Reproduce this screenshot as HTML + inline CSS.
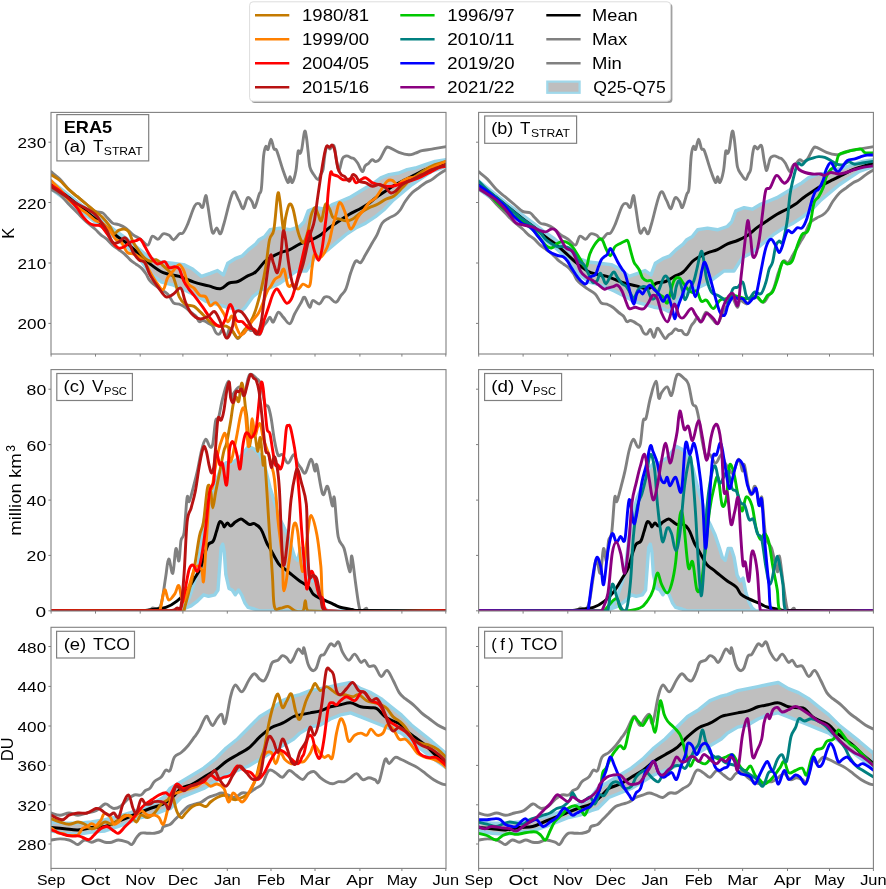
<!DOCTYPE html><html><head><meta charset="utf-8"><style>html,body{margin:0;padding:0;background:#fff;overflow:hidden}svg{display:block;will-change:transform}</style></head><body>
<svg width="886" height="889" viewBox="0 0 886 889">
<rect width="886" height="889" fill="#fff"/>
<defs>
<clipPath id="c00"><rect x="51.0" y="112.4" width="395.0" height="241.6"/></clipPath>
<clipPath id="c01"><rect x="478.6" y="112.4" width="394.8" height="241.6"/></clipPath>
<clipPath id="c10"><rect x="51.0" y="369.6" width="395.0" height="241.4"/></clipPath>
<clipPath id="c11"><rect x="478.6" y="369.6" width="394.8" height="241.4"/></clipPath>
<clipPath id="c20"><rect x="51.0" y="627.3" width="395.0" height="241.1"/></clipPath>
<clipPath id="c21"><rect x="478.6" y="627.3" width="394.8" height="241.1"/></clipPath>
</defs>
<g clip-path="url(#c00)">
<polygon points="51.0,181.0 65.0,192.0 80.0,204.0 95.0,215.0 107.0,224.0 117.0,232.0 127.0,239.0 139.0,249.0 150.0,258.0 161.0,262.0 172.0,263.2 183.7,264.6 192.6,269.0 201.4,276.4 210.2,273.4 217.5,270.5 223.4,274.9 227.8,263.2 235.1,258.7 242.4,255.8 248.3,249.9 255.6,244.1 259.2,239.7 264.5,236.7 270.0,229.8 279.9,228.1 289.8,229.8 299.7,226.5 304.0,222.0 308.2,210.9 316.5,207.6 324.7,209.2 333.0,204.3 341.2,201.0 349.4,197.7 357.7,192.8 365.9,187.8 374.2,182.9 380.8,177.9 389.0,174.6 398.9,173.0 407.1,169.7 415.4,168.0 425.2,164.7 435.1,161.4 446.0,159.8 446.0,166.4 431.8,171.3 422.0,177.9 412.1,184.5 402.2,192.8 392.3,201.0 383.7,210.0 375.5,216.6 365.6,223.2 355.7,228.1 345.8,234.7 335.9,243.0 324.4,252.8 314.5,257.8 306.3,271.0 296.4,271.0 289.8,275.9 280.0,283.2 270.3,287.6 261.5,289.6 252.7,296.9 245.4,307.2 241.0,311.6 235.1,308.6 226.3,307.2 216.0,304.2 205.8,301.3 198.4,296.9 186.7,291.0 173.5,285.2 161.7,282.2 150.0,273.4 139.0,258.0 127.0,247.0 117.0,240.0 107.0,231.0 95.0,222.0 80.0,211.0 65.0,199.0 51.0,189.0" fill="#bfbfbf" stroke="#94d3e8" stroke-width="3.4" stroke-linejoin="round"/>
<path d="M51.0,171.7 C52.5,173.0 56.7,176.0 59.8,179.1 C62.9,182.2 65.5,186.2 68.6,189.3 C71.7,192.4 74.3,194.1 77.4,196.7 C80.5,199.3 83.1,201.4 86.2,204.0 C89.3,206.6 92.2,209.9 95.0,211.4 C97.8,212.9 100.3,211.8 102.4,212.8 C104.5,213.8 105.0,215.4 106.8,217.2 C108.6,219.0 110.6,221.8 112.6,223.1 C114.6,224.4 116.2,223.7 118.5,224.6 C120.8,225.5 123.2,226.4 125.8,228.2 C128.4,230.0 130.6,232.9 133.2,234.8 C135.8,236.7 137.9,237.4 140.5,239.2 C143.1,241.0 145.8,245.6 147.8,245.1 C149.8,244.6 150.4,237.3 152.2,236.3 C154.0,235.3 156.2,239.6 158.1,239.2 C160.0,238.8 161.3,234.5 163.2,233.8 C165.1,233.1 167.3,234.3 169.1,235.3 C170.9,236.3 171.7,240.0 173.5,239.7 C175.3,239.4 177.7,235.0 179.3,233.8 C180.9,232.6 181.5,234.6 182.9,233.1 C184.3,231.6 185.2,229.8 187.3,225.0 C189.4,220.2 192.6,209.6 194.7,205.9 C196.8,202.2 197.7,203.4 199.1,203.7 C200.5,204.0 201.5,208.8 202.7,207.4 C203.9,206.0 204.8,195.9 205.7,195.6 C206.6,195.3 206.7,199.5 207.9,205.9 C209.1,212.3 210.8,228.5 212.3,232.3 C213.8,236.2 215.3,227.6 216.7,227.9 C218.1,228.2 219.1,234.6 220.4,233.8 C221.7,233.0 221.8,230.7 224.0,223.5 C226.2,216.3 230.2,196.8 232.8,192.7 C235.4,188.6 236.9,197.2 238.7,200.0 C240.5,202.8 241.6,209.2 243.1,208.8 C244.6,208.4 246.0,199.1 247.5,197.8 C249.0,196.5 250.6,199.8 251.9,201.5 C253.2,203.2 253.5,208.7 254.8,207.4 C256.1,206.1 258.0,197.5 259.2,194.2 C260.4,190.9 260.6,195.0 261.4,188.3 C262.2,181.6 262.8,163.3 263.6,156.0 C264.4,148.7 265.0,147.7 265.8,146.5 C266.6,145.3 267.1,150.7 268.0,149.4 C268.9,148.1 270.0,139.2 271.0,139.1 C272.0,139.0 272.9,146.6 273.9,148.7 C274.9,150.8 275.3,147.3 276.8,150.9 C278.3,154.5 280.8,163.7 282.7,169.2 C284.6,174.7 286.6,181.1 287.9,182.4 C289.2,183.7 289.2,176.6 290.0,176.6 C290.8,176.6 291.3,183.4 292.3,182.4 C293.3,181.4 294.9,176.1 295.9,170.7 C296.9,165.3 297.4,154.6 298.1,151.6 C298.8,148.6 299.4,153.9 300.0,153.4 C300.6,152.9 301.0,152.8 301.8,149.0 C302.6,145.2 303.7,133.9 304.5,131.7 C305.3,129.5 305.7,132.8 306.3,136.3 C306.9,139.8 307.5,146.2 308.1,151.6 C308.7,157.0 309.0,163.0 309.9,167.0 C310.8,171.0 312.1,172.0 313.5,174.2 C314.9,176.4 316.7,179.6 318.0,179.6 C319.3,179.6 319.9,175.9 320.8,174.2 C321.7,172.5 322.3,172.9 323.0,169.7 C323.7,166.5 324.1,160.1 324.7,156.1 C325.3,152.1 325.9,148.7 326.5,147.1 C327.1,145.5 327.7,146.8 328.3,147.1 C328.9,147.4 329.3,149.2 330.1,148.9 C330.9,148.6 332.0,145.5 332.8,145.3 C333.6,145.1 334.0,145.5 334.6,148.0 C335.2,150.5 335.7,155.8 336.4,159.7 C337.1,163.5 337.9,168.6 338.5,170.0 C339.1,171.4 339.3,169.9 340.0,167.9 C340.7,165.9 341.5,160.6 342.5,158.5 C343.5,156.4 344.5,156.5 345.5,156.1 C346.5,155.7 346.9,155.8 348.0,156.1 C349.1,156.4 350.4,157.4 351.5,157.9 C352.6,158.4 353.1,157.9 354.2,158.8 C355.3,159.7 356.4,161.1 357.8,163.3 C359.2,165.5 361.0,171.0 362.3,171.5 C363.6,172.0 363.9,167.5 365.0,166.1 C366.1,164.7 367.3,164.4 368.6,163.3 C369.9,162.2 370.9,160.0 372.2,159.7 C373.5,159.4 374.4,161.8 375.8,161.6 C377.2,161.4 378.3,161.1 380.0,158.8 C381.7,156.5 384.1,150.3 385.7,148.3 C387.3,146.3 386.7,146.7 389.0,147.4 C391.3,148.1 395.4,151.1 398.9,152.4 C402.4,153.7 405.9,154.7 408.8,154.8 C411.7,154.9 413.1,153.9 415.4,153.2 C417.7,152.5 419.0,151.4 421.9,150.7 C424.8,150.0 428.3,149.7 431.8,149.1 C435.3,148.5 439.2,147.8 441.7,147.4 C444.2,147.0 445.2,146.7 446.0,146.6" fill="none" stroke="#808080" stroke-width="2.90" stroke-linejoin="round" stroke-linecap="round" />
<path d="M51.0,189.3 C52.5,190.2 56.7,191.9 59.8,194.5 C62.9,197.1 65.5,200.8 68.6,204.0 C71.7,207.2 74.3,209.7 77.4,212.8 C80.5,215.9 83.1,218.8 86.2,221.6 C89.3,224.4 92.4,226.7 95.0,229.0 C97.6,231.3 98.8,233.0 100.9,234.8 C103.0,236.6 104.8,237.4 106.8,239.2 C108.8,241.0 110.6,243.3 112.6,245.1 C114.6,246.9 116.4,248.0 118.5,249.5 C120.6,251.0 122.4,252.1 124.4,253.9 C126.4,255.7 128.2,258.0 130.2,259.8 C132.2,261.6 134.0,262.7 136.1,264.2 C138.2,265.7 140.2,266.8 142.0,268.6 C143.8,270.4 145.0,272.4 146.4,274.5 C147.8,276.6 147.8,278.4 150.0,280.8 C152.2,283.2 155.7,285.8 158.8,288.1 C161.9,290.4 165.0,291.4 167.6,294.0 C170.2,296.6 171.5,301.0 173.5,302.8 C175.5,304.6 177.3,303.4 179.3,304.2 C181.3,305.0 183.1,305.7 185.2,307.2 C187.3,308.7 189.2,311.0 191.1,312.5 C193.0,314.0 194.4,314.4 195.8,316.0 C197.2,317.6 198.0,320.8 199.2,321.6 C200.4,322.4 201.4,320.5 202.6,320.5 C203.8,320.5 204.7,321.0 205.9,321.6 C207.1,322.2 208.1,323.1 209.3,323.9 C210.5,324.7 211.5,324.5 212.7,326.1 C213.9,327.7 214.9,331.5 216.1,332.9 C217.3,334.3 218.3,334.6 219.5,334.0 C220.7,333.4 221.7,328.9 222.9,329.5 C224.1,330.1 225.1,337.6 226.3,337.4 C227.5,337.2 228.4,329.4 229.6,328.4 C230.8,327.4 231.6,330.0 233.0,331.8 C234.4,333.6 236.1,337.9 237.5,338.5 C238.9,339.1 239.7,336.1 240.9,335.1 C242.1,334.1 243.1,334.0 244.3,332.9 C245.5,331.8 246.5,329.3 247.7,328.9 C248.9,328.5 250.0,330.3 251.1,330.6 C252.2,330.9 252.9,330.0 253.9,330.6 C254.9,331.2 255.6,333.4 256.7,334.0 C257.8,334.6 258.9,335.4 260.1,334.0 C261.3,332.6 262.3,328.3 263.5,326.1 C264.7,323.9 265.8,323.2 266.9,321.6 C268.0,320.0 268.9,317.0 270.0,317.1 C271.1,317.2 271.9,323.0 273.3,322.1 C274.7,321.2 276.5,313.1 278.2,312.2 C279.9,311.3 281.2,315.1 283.2,317.1 C285.2,319.1 287.8,324.3 289.8,323.7 C291.8,323.1 292.7,317.5 294.7,313.8 C296.7,310.1 299.6,305.2 301.3,302.3 C303.0,299.4 303.1,296.4 304.6,297.3 C306.1,298.2 308.2,306.6 309.6,307.2 C311.0,307.8 311.1,301.2 312.8,300.6 C314.5,300.0 317.4,304.5 319.4,303.9 C321.4,303.3 322.7,298.5 324.4,297.3 C326.1,296.1 327.3,296.4 329.3,297.3 C331.3,298.2 333.9,302.6 335.9,302.3 C337.9,302.0 339.2,298.0 340.9,295.7 C342.6,293.4 344.1,293.1 345.8,289.1 C347.5,285.1 349.1,277.5 350.8,272.6 C352.5,267.7 354.0,262.8 355.7,261.1 C357.4,259.4 358.9,263.9 360.6,262.7 C362.3,261.5 363.6,257.9 365.6,254.5 C367.6,251.1 370.2,246.5 372.2,243.0 C374.2,239.5 375.4,238.2 377.1,234.7 C378.8,231.2 380.1,226.1 382.1,223.2 C384.1,220.3 386.4,219.7 388.7,218.2 C391.0,216.7 393.2,216.3 395.2,214.9 C397.2,213.5 398.4,212.4 400.2,210.0 C402.0,207.6 403.4,204.0 405.5,201.0 C407.6,198.0 409.8,195.1 412.1,192.8 C414.4,190.5 416.4,189.5 418.7,187.8 C421.0,186.1 422.9,184.3 425.2,182.9 C427.5,181.5 429.5,181.1 431.8,179.6 C434.1,178.1 435.9,176.3 438.4,174.6 C440.9,172.9 444.7,170.6 446.0,169.7" fill="none" stroke="#808080" stroke-width="2.90" stroke-linejoin="round" stroke-linecap="round" />
<path d="M51.0,185.0 C53.6,186.8 60.6,191.3 65.7,195.2 C70.8,199.0 75.2,202.9 80.3,207.0 C85.4,211.1 90.4,215.1 95.0,218.7 C99.6,222.3 103.0,224.4 106.8,227.5 C110.6,230.6 113.4,233.5 117.0,236.3 C120.6,239.1 123.5,240.5 127.3,243.6 C131.2,246.7 135.0,250.3 139.0,253.9 C143.0,257.5 145.8,260.6 150.0,263.9 C154.2,267.2 158.1,270.5 163.2,272.7 C168.3,274.9 173.9,274.7 179.3,276.4 C184.7,278.1 188.9,280.5 194.0,282.2 C199.1,283.9 204.1,284.7 208.7,285.9 C213.3,287.1 216.8,289.3 220.4,288.8 C224.0,288.3 226.1,284.3 229.2,283.0 C232.3,281.7 234.9,282.7 238.0,281.5 C241.1,280.3 243.7,278.1 246.8,276.4 C249.9,274.7 252.5,274.6 255.6,272.0 C258.7,269.4 262.0,264.2 264.5,261.7 C267.0,259.2 267.3,259.4 270.0,257.8 C272.7,256.2 276.4,254.2 279.9,252.8 C283.4,251.4 286.3,251.2 289.8,249.6 C293.3,248.0 296.5,245.4 300.0,243.8 C303.5,242.2 306.4,241.9 309.9,240.5 C313.4,239.1 316.3,237.9 319.8,235.6 C323.3,233.3 326.2,230.0 329.7,227.4 C333.2,224.8 336.2,223.1 339.6,220.8 C343.0,218.5 346.0,216.2 349.4,214.2 C352.8,212.2 356.1,210.9 359.3,209.2 C362.5,207.5 364.7,206.3 367.6,204.3 C370.5,202.3 372.6,200.0 375.8,197.7 C379.0,195.4 382.2,193.4 385.7,191.1 C389.2,188.8 392.1,186.5 395.6,184.5 C399.1,182.5 402.0,181.3 405.5,179.6 C409.0,177.9 412.0,176.3 415.4,174.6 C418.8,172.9 421.8,171.1 425.2,169.7 C428.6,168.3 431.5,167.6 435.1,166.4 C438.7,165.2 444.1,163.7 446.0,163.1" fill="none" stroke="#000" stroke-width="3.00" stroke-linejoin="round" stroke-linecap="round" />
<path d="M51.0,174.7 C52.5,175.7 56.7,177.9 59.8,180.5 C62.9,183.1 65.5,186.5 68.6,189.3 C71.7,192.1 74.3,194.1 77.4,196.7 C80.5,199.3 83.1,201.4 86.2,204.0 C89.3,206.6 92.2,209.1 95.0,211.4 C97.8,213.7 99.8,214.6 102.4,217.2 C105.0,219.8 107.7,223.2 109.7,226.0 C111.7,228.8 112.6,232.6 114.1,233.4 C115.6,234.2 116.7,231.2 118.5,230.4 C120.3,229.6 122.6,228.7 124.4,229.0 C126.2,229.3 127.3,229.6 128.8,231.9 C130.3,234.2 131.4,238.9 133.2,242.2 C135.0,245.5 137.0,248.2 139.0,251.0 C141.0,253.8 142.8,256.5 144.9,258.3 C147.0,260.1 148.8,260.9 150.8,261.2 C152.8,261.5 154.6,259.1 156.6,259.8 C158.6,260.5 160.4,263.2 162.5,265.1 C164.6,267.0 166.6,268.6 168.4,270.5 C170.2,272.4 171.4,273.1 172.8,275.9 C174.2,278.7 175.3,282.9 176.4,286.6 C177.5,290.3 177.8,293.8 179.3,296.9 C180.8,300.0 182.6,302.5 185.2,304.2 C187.8,305.9 191.4,305.1 194.0,306.4 C196.6,307.7 197.8,309.7 199.9,311.6 C202.0,313.5 203.8,315.4 205.8,317.4 C207.8,319.4 209.3,321.8 211.6,323.3 C213.9,324.8 216.4,325.7 219.0,326.2 C221.6,326.7 224.0,325.4 226.3,326.2 C228.6,327.0 230.2,328.5 232.2,330.6 C234.2,332.7 236.0,338.0 238.0,338.0 C240.0,338.0 241.8,333.2 243.9,330.6 C246.0,328.0 247.8,326.9 249.8,323.3 C251.8,319.7 253.6,316.3 255.6,310.1 C257.6,303.9 259.7,295.8 261.5,288.1 C263.3,280.4 264.5,274.6 265.9,266.1 C267.3,257.6 268.1,246.1 269.5,239.7 C270.9,233.3 272.5,237.2 273.9,229.4 C275.3,221.6 276.6,200.0 277.6,194.9 C278.6,189.8 278.8,194.0 279.8,200.0 C280.8,206.0 282.4,226.3 283.4,229.4 C284.4,232.5 284.6,222.0 285.6,217.6 C286.6,213.2 288.0,205.9 289.3,204.4 C290.6,202.9 291.6,204.4 293.0,208.8 C294.4,213.2 296.0,223.9 297.4,229.4 C298.8,234.9 299.8,237.8 301.0,240.0 C302.2,242.2 302.8,243.5 304.0,242.0 C305.2,240.5 306.7,236.0 307.9,231.4 C309.1,226.8 309.8,220.2 311.0,216.0 C312.2,211.8 313.6,207.9 314.8,207.6 C316.0,207.3 316.9,211.9 318.1,214.2 C319.3,216.5 320.1,222.5 321.4,220.8 C322.7,219.1 324.0,206.3 325.5,204.3 C327.0,202.3 328.4,206.9 329.7,209.2 C331.0,211.5 331.3,215.8 333.0,217.5 C334.7,219.2 337.3,218.5 339.6,219.1 C341.9,219.7 343.8,220.8 346.1,220.8 C348.4,220.8 350.1,220.6 352.7,219.1 C355.3,217.6 358.1,214.5 361.0,212.5 C363.9,210.5 366.3,209.0 369.2,207.6 C372.1,206.2 374.6,205.8 377.5,204.3 C380.4,202.8 382.8,200.8 385.7,199.3 C388.6,197.8 391.0,198.0 393.9,196.0 C396.8,194.0 399.6,190.4 402.2,187.8 C404.8,185.2 406.5,183.2 408.8,181.2 C411.1,179.2 412.5,178.3 415.4,176.3 C418.3,174.3 421.8,171.7 425.2,169.7 C428.6,167.7 431.5,166.2 435.1,164.7 C438.7,163.2 444.1,162.0 446.0,161.4" fill="none" stroke="#c47a00" stroke-width="2.90" stroke-linejoin="round" stroke-linecap="round" />
<path d="M51.0,180.5 C52.5,182.0 56.7,186.0 59.8,189.3 C62.9,192.6 65.5,196.5 68.6,199.6 C71.7,202.7 74.3,204.7 77.4,207.0 C80.5,209.3 83.1,210.5 86.2,212.8 C89.3,215.1 92.2,218.4 95.0,220.2 C97.8,222.0 99.8,221.3 102.4,223.1 C105.0,224.9 107.4,227.6 109.7,230.4 C112.0,233.2 113.6,237.1 115.6,239.2 C117.6,241.3 119.4,239.9 121.4,242.2 C123.4,244.5 125.2,250.4 127.3,252.4 C129.4,254.4 131.2,253.1 133.2,253.9 C135.2,254.7 137.0,255.3 139.0,256.8 C141.0,258.3 143.0,260.0 144.9,262.7 C146.8,265.4 147.8,268.3 150.0,272.0 C152.2,275.7 155.0,280.6 157.3,283.7 C159.6,286.8 161.4,290.6 163.2,289.6 C165.0,288.6 165.8,281.1 167.6,277.8 C169.4,274.5 171.5,272.8 173.5,270.5 C175.5,268.2 177.5,264.6 179.3,264.6 C181.1,264.6 182.1,267.2 183.7,270.5 C185.3,273.8 186.4,280.6 188.2,283.7 C190.0,286.8 192.0,286.1 194.0,288.1 C196.0,290.1 197.8,293.9 199.9,295.4 C202.0,296.9 204.0,295.1 205.8,296.9 C207.6,298.7 208.4,304.7 210.2,305.7 C212.0,306.7 213.7,301.5 216.0,302.8 C218.3,304.1 221.3,309.7 223.4,313.0 C225.5,316.3 226.3,321.3 227.8,321.8 C229.3,322.3 230.7,315.0 232.2,316.0 C233.7,317.0 235.1,324.4 236.6,327.7 C238.1,331.0 239.2,334.7 241.0,335.0 C242.8,335.3 244.8,331.8 246.8,329.2 C248.8,326.6 250.6,323.2 252.7,320.4 C254.8,317.6 256.8,316.1 258.6,313.0 C260.4,309.9 261.5,306.7 263.0,302.8 C264.5,298.9 266.0,293.9 267.4,291.0 C268.8,288.1 269.7,288.1 271.0,286.0 C272.3,283.9 273.3,281.0 274.9,279.2 C276.5,277.4 278.3,277.6 279.9,275.9 C281.5,274.2 282.6,267.6 284.0,269.3 C285.4,271.0 286.5,283.2 288.1,285.8 C289.7,288.4 291.4,283.6 293.1,284.2 C294.8,284.8 296.3,289.1 298.0,289.1 C299.7,289.1 301.0,284.8 303.0,284.2 C305.0,283.6 308.0,288.7 309.6,285.8 C311.2,282.9 311.1,273.2 312.0,267.7 C312.9,262.2 313.2,256.2 314.5,254.5 C315.8,252.8 317.7,258.1 319.4,257.8 C321.1,257.5 322.7,255.7 324.4,252.8 C326.1,249.9 327.9,245.9 329.3,241.3 C330.7,236.7 331.4,231.1 332.6,226.5 C333.8,221.9 334.7,219.2 335.9,215.0 C337.1,210.8 338.1,203.3 339.6,202.6 C341.1,201.9 342.8,206.6 344.5,210.9 C346.2,215.2 348.0,224.5 349.4,227.4 C350.8,230.3 351.2,229.1 352.7,227.4 C354.2,225.7 355.7,220.7 357.7,217.5 C359.7,214.3 362.3,211.8 364.3,209.2 C366.3,206.6 367.2,204.6 369.2,202.6 C371.2,200.6 373.5,200.3 375.8,197.7 C378.1,195.1 380.4,190.7 382.4,187.8 C384.4,184.9 385.6,182.5 387.3,181.2 C389.0,179.9 390.6,179.8 392.3,180.4 C394.0,181.0 395.5,184.4 397.2,184.5 C398.9,184.6 400.2,182.4 402.2,181.2 C404.2,180.0 405.9,178.8 408.8,177.9 C411.7,177.0 415.3,177.7 418.7,176.3 C422.1,174.9 425.1,171.7 428.5,169.7 C431.9,167.7 435.3,166.2 438.4,164.7 C441.5,163.2 444.7,162.0 446.0,161.4" fill="none" stroke="#ff8000" stroke-width="2.90" stroke-linejoin="round" stroke-linecap="round" />
<path d="M51.0,185.0 C52.5,186.0 56.7,188.5 59.8,190.8 C62.9,193.1 65.5,195.1 68.6,198.2 C71.7,201.3 74.8,205.1 77.4,208.4 C80.0,211.7 81.2,214.6 83.3,217.2 C85.4,219.8 87.2,221.7 89.2,223.1 C91.2,224.5 93.0,224.8 95.0,225.3 C97.0,225.8 98.8,224.6 100.9,226.0 C103.0,227.4 104.8,230.6 106.8,233.4 C108.8,236.2 110.6,239.6 112.6,242.2 C114.6,244.8 116.4,247.2 118.5,248.0 C120.6,248.8 122.4,247.6 124.4,246.6 C126.4,245.6 128.2,243.2 130.2,242.2 C132.2,241.2 134.3,241.2 136.1,240.7 C137.9,240.2 139.0,238.2 140.5,239.2 C142.0,240.2 143.1,243.5 144.9,246.6 C146.7,249.7 148.6,253.8 150.8,256.8 C153.0,259.8 154.9,263.0 157.3,263.9 C159.7,264.8 162.6,261.1 164.7,261.7 C166.8,262.3 167.3,266.7 169.1,267.6 C170.9,268.5 173.1,266.6 174.9,266.8 C176.7,267.0 177.8,266.6 179.3,269.0 C180.8,271.4 182.1,277.5 183.7,280.8 C185.3,284.1 186.4,285.5 188.2,288.1 C190.0,290.7 191.4,292.1 194.0,295.4 C196.6,298.7 200.2,303.6 202.8,307.2 C205.4,310.8 206.6,313.2 208.7,316.0 C210.8,318.8 212.6,321.5 214.6,323.3 C216.6,325.1 218.6,326.7 220.4,326.2 C222.2,325.7 223.3,324.0 224.8,320.4 C226.3,316.8 227.9,308.0 229.2,305.7 C230.5,303.4 230.9,304.6 232.2,307.2 C233.5,309.8 234.8,317.8 236.6,320.4 C238.4,323.0 240.4,320.5 242.4,321.8 C244.4,323.1 246.2,326.4 248.3,327.7 C250.4,329.0 252.2,328.2 254.2,329.2 C256.2,330.2 258.2,335.4 260.0,333.6 C261.8,331.8 262.9,323.7 264.5,318.9 C266.1,314.1 267.4,310.4 268.9,306.0 C270.4,301.6 271.6,297.0 273.0,294.0 C274.4,291.0 275.5,288.7 277.0,289.0 C278.5,289.3 279.8,293.2 281.5,295.7 C283.2,298.2 284.8,302.5 286.5,303.1 C288.2,303.7 290.0,301.4 291.4,299.0 C292.8,296.6 293.2,294.3 294.7,289.1 C296.2,283.9 298.0,276.5 299.7,269.3 C301.4,262.1 303.0,254.5 304.6,247.9 C306.2,241.3 307.5,233.1 308.7,231.4 C309.9,229.7 310.2,234.5 311.2,238.0 C312.2,241.5 313.2,247.3 314.5,251.2 C315.8,255.1 317.3,260.6 318.6,260.3 C319.9,260.0 320.9,254.7 321.9,249.6 C322.9,244.5 323.5,238.3 324.4,231.4 C325.3,224.5 326.3,216.5 326.9,210.0 C327.5,203.5 327.4,200.9 328.0,194.4 C328.6,187.9 329.6,176.5 330.5,173.0 C331.4,169.5 331.7,174.0 333.0,174.6 C334.3,175.2 336.2,175.4 337.9,176.3 C339.6,177.2 341.1,179.0 342.8,179.6 C344.5,180.2 346.1,179.9 347.8,179.6 C349.5,179.3 351.3,177.3 352.7,177.9 C354.1,178.5 354.5,182.6 356.0,182.9 C357.5,183.2 359.3,180.5 361.0,179.6 C362.7,178.7 363.9,177.3 365.9,177.9 C367.9,178.5 370.2,181.7 372.5,182.9 C374.8,184.1 376.8,183.9 379.1,184.5 C381.4,185.1 383.4,185.9 385.7,186.2 C388.0,186.5 390.0,186.5 392.3,186.2 C394.6,185.9 396.0,185.4 398.9,184.5 C401.8,183.6 405.3,182.4 408.8,181.2 C412.3,180.0 415.3,179.3 418.7,177.9 C422.1,176.5 425.1,174.7 428.5,173.0 C431.9,171.3 435.3,169.2 438.4,168.0 C441.5,166.8 444.7,166.7 446.0,166.4" fill="none" stroke="#ff0000" stroke-width="2.90" stroke-linejoin="round" stroke-linecap="round" />
<path d="M51.0,186.4 C52.5,187.4 56.7,190.2 59.8,192.3 C62.9,194.4 65.5,196.2 68.6,198.2 C71.7,200.2 74.3,202.2 77.4,204.0 C80.5,205.8 83.1,206.6 86.2,208.4 C89.3,210.2 92.4,212.0 95.0,214.3 C97.6,216.6 98.8,218.8 100.9,221.6 C103.0,224.4 104.8,226.8 106.8,230.4 C108.8,234.0 110.6,240.1 112.6,242.2 C114.6,244.3 116.4,243.0 118.5,242.2 C120.6,241.4 122.6,237.8 124.4,237.8 C126.2,237.8 127.3,239.6 128.8,242.2 C130.3,244.8 131.4,249.3 133.2,252.4 C135.0,255.5 137.0,258.0 139.0,259.8 C141.0,261.6 143.0,260.1 144.9,262.7 C146.8,265.3 147.6,270.5 150.0,274.9 C152.4,279.3 156.0,284.2 158.8,288.1 C161.6,292.0 163.5,295.9 166.1,296.9 C168.7,297.9 170.9,295.5 173.5,294.0 C176.1,292.5 178.8,286.8 180.8,288.1 C182.8,289.4 183.4,296.9 185.2,301.3 C187.0,305.7 188.5,309.9 191.1,313.0 C193.7,316.1 196.8,318.4 199.9,318.9 C203.0,319.4 206.1,317.3 208.7,316.0 C211.3,314.7 212.6,310.6 214.6,311.6 C216.6,312.6 218.4,317.2 220.4,321.8 C222.4,326.4 224.2,337.0 226.3,338.0 C228.4,339.0 230.7,332.1 232.2,327.7 C233.7,323.3 233.6,315.8 235.1,313.0 C236.6,310.2 239.0,310.6 241.0,311.6 C243.0,312.6 244.8,315.8 246.8,318.9 C248.8,322.0 250.9,326.6 252.7,329.2 C254.5,331.8 255.6,335.1 257.1,333.6 C258.6,332.1 260.0,329.1 261.5,320.4 C263.0,311.7 264.4,295.0 265.9,283.7 C267.4,272.4 269.0,259.5 270.3,255.8 C271.6,252.1 272.1,259.8 273.3,262.7 C274.5,265.6 276.1,273.8 277.4,272.6 C278.7,271.4 279.7,263.3 280.7,256.1 C281.7,248.9 282.3,234.3 283.2,231.4 C284.1,228.5 284.8,234.8 285.7,239.7 C286.6,244.6 287.1,252.5 288.1,259.4 C289.1,266.3 290.2,274.0 291.4,279.2 C292.6,284.4 293.5,289.1 294.7,289.1 C295.9,289.1 296.5,283.5 298.0,279.2 C299.5,274.9 301.3,270.7 303.0,264.4 C304.7,258.1 306.5,248.8 307.9,243.0 C309.3,237.2 310.0,235.4 311.2,231.4 C312.4,227.4 313.3,226.4 314.5,219.9 C315.7,213.4 316.6,204.6 318.1,194.4 C319.6,184.2 321.6,169.8 323.1,161.4 C324.6,153.0 325.2,149.0 326.4,146.6 C327.6,144.2 328.7,147.7 329.7,147.4 C330.7,147.1 331.2,144.6 332.1,145.0 C333.0,145.4 333.6,145.9 334.6,149.9 C335.6,153.9 336.7,163.7 337.9,168.0 C339.1,172.3 340.0,173.1 341.2,174.6 C342.4,176.1 343.1,175.1 344.5,176.3 C345.9,177.5 348.0,181.5 349.4,181.2 C350.8,180.9 351.5,175.5 352.7,174.6 C353.9,173.7 354.8,175.1 356.0,176.3 C357.2,177.5 357.6,180.0 359.3,181.2 C361.0,182.4 363.6,182.0 365.9,182.9 C368.2,183.8 370.2,185.9 372.5,186.2 C374.8,186.5 376.8,184.2 379.1,184.5 C381.4,184.8 383.7,186.3 385.7,187.8 C387.7,189.3 388.9,192.2 390.6,192.8 C392.3,193.4 393.6,192.6 395.6,191.1 C397.6,189.6 399.3,186.5 402.2,184.5 C405.1,182.5 408.6,181.3 412.1,179.6 C415.6,177.9 418.6,176.3 422.0,174.6 C425.4,172.9 427.6,171.4 431.8,169.7 C436.0,168.0 443.5,165.6 446.0,164.7" fill="none" stroke="#b81212" stroke-width="2.90" stroke-linejoin="round" stroke-linecap="round" />
</g>
<g clip-path="url(#c01)">
<polygon points="478.6,181.0 492.6,192.0 507.6,204.0 522.6,215.0 534.6,224.0 544.6,232.0 554.6,239.0 566.6,249.0 577.6,258.0 588.6,262.0 599.6,263.2 611.3,264.6 620.2,269.0 629.0,276.4 637.8,273.4 645.1,270.5 651.0,274.9 655.4,263.2 662.7,258.7 670.0,255.8 675.9,249.9 683.2,244.1 686.8,239.7 692.1,236.7 697.6,229.8 707.5,228.1 717.4,229.8 727.3,226.5 731.6,222.0 735.8,210.9 744.1,207.6 752.3,209.2 760.6,204.3 768.8,201.0 777.0,197.7 785.3,192.8 793.5,187.8 801.8,182.9 808.4,177.9 816.6,174.6 826.5,173.0 834.7,169.7 843.0,168.0 852.8,164.7 862.7,161.4 873.6,159.8 873.6,166.4 859.4,171.3 849.6,177.9 839.7,184.5 829.8,192.8 819.9,201.0 811.3,210.0 803.1,216.6 793.2,223.2 783.3,228.1 773.4,234.7 763.5,243.0 752.0,252.8 742.1,257.8 733.9,271.0 724.0,271.0 717.4,275.9 707.6,283.2 697.9,287.6 689.1,289.6 680.3,296.9 673.0,307.2 668.6,311.6 662.7,308.6 653.9,307.2 643.6,304.2 633.4,301.3 626.0,296.9 614.3,291.0 601.1,285.2 589.3,282.2 577.6,273.4 566.6,258.0 554.6,247.0 544.6,240.0 534.6,231.0 522.6,222.0 507.6,211.0 492.6,199.0 478.6,189.0" fill="#bfbfbf" stroke="#94d3e8" stroke-width="3.4" stroke-linejoin="round"/>
<path d="M478.6,171.7 C480.1,173.0 484.3,176.0 487.4,179.1 C490.5,182.2 493.1,186.2 496.2,189.3 C499.3,192.4 501.9,194.1 505.0,196.7 C508.1,199.3 510.7,201.4 513.8,204.0 C516.9,206.6 519.8,209.9 522.6,211.4 C525.4,212.9 527.9,211.8 530.0,212.8 C532.1,213.8 532.6,215.4 534.4,217.2 C536.2,219.0 538.2,221.8 540.2,223.1 C542.2,224.4 543.8,223.7 546.1,224.6 C548.4,225.5 550.8,226.4 553.4,228.2 C556.0,230.0 558.2,232.9 560.8,234.8 C563.4,236.7 565.5,237.4 568.1,239.2 C570.7,241.0 573.4,245.6 575.4,245.1 C577.4,244.6 578.0,237.3 579.8,236.3 C581.6,235.3 583.8,239.6 585.7,239.2 C587.6,238.8 588.9,234.5 590.8,233.8 C592.7,233.1 594.9,234.3 596.7,235.3 C598.5,236.3 599.3,240.0 601.1,239.7 C602.9,239.4 605.3,235.0 606.9,233.8 C608.5,232.6 609.1,234.6 610.5,233.1 C611.9,231.6 612.8,229.8 614.9,225.0 C617.0,220.2 620.2,209.6 622.3,205.9 C624.4,202.2 625.3,203.4 626.7,203.7 C628.1,204.0 629.1,208.8 630.3,207.4 C631.5,206.0 632.4,195.9 633.3,195.6 C634.2,195.3 634.3,199.5 635.5,205.9 C636.7,212.3 638.4,228.5 639.9,232.3 C641.4,236.2 642.9,227.6 644.3,227.9 C645.7,228.2 646.7,234.6 648.0,233.8 C649.3,233.0 649.4,230.7 651.6,223.5 C653.8,216.3 657.8,196.8 660.4,192.7 C663.0,188.6 664.5,197.2 666.3,200.0 C668.1,202.8 669.2,209.2 670.7,208.8 C672.2,208.4 673.6,199.1 675.1,197.8 C676.6,196.5 678.2,199.8 679.5,201.5 C680.8,203.2 681.1,208.7 682.4,207.4 C683.7,206.1 685.6,197.5 686.8,194.2 C688.0,190.9 688.2,195.0 689.0,188.3 C689.8,181.6 690.4,163.3 691.2,156.0 C692.0,148.7 692.6,147.7 693.4,146.5 C694.2,145.3 694.7,150.7 695.6,149.4 C696.5,148.1 697.6,139.2 698.6,139.1 C699.6,139.0 700.5,146.6 701.5,148.7 C702.5,150.8 702.9,147.3 704.4,150.9 C705.9,154.5 708.4,163.7 710.3,169.2 C712.2,174.7 714.2,181.1 715.5,182.4 C716.8,183.7 716.8,176.6 717.6,176.6 C718.4,176.6 718.9,183.4 719.9,182.4 C720.9,181.4 722.5,176.1 723.5,170.7 C724.5,165.3 725.0,154.6 725.7,151.6 C726.4,148.6 727.0,153.9 727.6,153.4 C728.2,152.9 728.6,152.8 729.4,149.0 C730.2,145.2 731.3,133.9 732.1,131.7 C732.9,129.5 733.3,132.8 733.9,136.3 C734.5,139.8 735.1,146.2 735.7,151.6 C736.3,157.0 736.6,163.0 737.5,167.0 C738.4,171.0 739.7,172.0 741.1,174.2 C742.5,176.4 744.3,179.6 745.6,179.6 C746.9,179.6 747.5,175.9 748.4,174.2 C749.3,172.5 749.9,172.9 750.6,169.7 C751.3,166.5 751.7,160.1 752.3,156.1 C752.9,152.1 753.5,148.7 754.1,147.1 C754.7,145.5 755.3,146.8 755.9,147.1 C756.5,147.4 756.9,149.2 757.7,148.9 C758.5,148.6 759.6,145.5 760.4,145.3 C761.2,145.1 761.6,145.5 762.2,148.0 C762.8,150.5 763.3,155.8 764.0,159.7 C764.7,163.5 765.5,168.6 766.1,170.0 C766.7,171.4 766.9,169.9 767.6,167.9 C768.3,165.9 769.1,160.6 770.1,158.5 C771.1,156.4 772.1,156.5 773.1,156.1 C774.1,155.7 774.6,155.8 775.6,156.1 C776.6,156.4 778.0,157.4 779.1,157.9 C780.2,158.4 780.7,157.9 781.8,158.8 C782.9,159.7 784.0,161.1 785.4,163.3 C786.8,165.5 788.6,171.0 789.9,171.5 C791.2,172.0 791.5,167.5 792.6,166.1 C793.7,164.7 794.9,164.4 796.2,163.3 C797.5,162.2 798.5,160.0 799.8,159.7 C801.1,159.4 802.0,161.8 803.4,161.6 C804.8,161.4 805.9,161.1 807.6,158.8 C809.3,156.5 811.7,150.3 813.3,148.3 C814.9,146.3 814.3,146.7 816.6,147.4 C818.9,148.1 823.0,151.1 826.5,152.4 C830.0,153.7 833.5,154.7 836.4,154.8 C839.3,154.9 840.7,153.9 843.0,153.2 C845.3,152.5 846.6,151.4 849.5,150.7 C852.4,150.0 855.9,149.7 859.4,149.1 C862.9,148.5 866.8,147.8 869.3,147.4 C871.8,147.0 872.8,146.7 873.6,146.6" fill="none" stroke="#808080" stroke-width="2.90" stroke-linejoin="round" stroke-linecap="round" />
<path d="M478.6,189.3 C480.1,190.2 484.3,191.9 487.4,194.5 C490.5,197.1 493.1,200.8 496.2,204.0 C499.3,207.2 501.9,209.7 505.0,212.8 C508.1,215.9 510.7,218.8 513.8,221.6 C516.9,224.4 520.0,226.7 522.6,229.0 C525.2,231.3 526.4,233.0 528.5,234.8 C530.6,236.6 532.4,237.4 534.4,239.2 C536.4,241.0 538.2,243.3 540.2,245.1 C542.2,246.9 544.0,248.0 546.1,249.5 C548.2,251.0 550.0,252.1 552.0,253.9 C554.0,255.7 555.8,258.0 557.8,259.8 C559.8,261.6 561.6,262.7 563.7,264.2 C565.8,265.7 567.8,266.8 569.6,268.6 C571.4,270.4 572.6,272.4 574.0,274.5 C575.4,276.6 575.4,278.4 577.6,280.8 C579.8,283.2 583.3,285.8 586.4,288.1 C589.5,290.4 592.6,291.4 595.2,294.0 C597.8,296.6 599.1,301.0 601.1,302.8 C603.1,304.6 604.9,303.4 606.9,304.2 C608.9,305.0 610.7,305.7 612.8,307.2 C614.9,308.7 616.8,311.0 618.7,312.5 C620.6,314.0 622.0,314.4 623.4,316.0 C624.8,317.6 625.6,320.8 626.8,321.6 C628.0,322.4 629.0,320.5 630.2,320.5 C631.4,320.5 632.3,321.0 633.5,321.6 C634.7,322.2 635.7,323.1 636.9,323.9 C638.1,324.7 639.1,324.5 640.3,326.1 C641.5,327.7 642.5,331.5 643.7,332.9 C644.9,334.3 645.9,334.6 647.1,334.0 C648.3,333.4 649.3,328.9 650.5,329.5 C651.7,330.1 652.7,337.6 653.9,337.4 C655.1,337.2 656.0,329.4 657.2,328.4 C658.4,327.4 659.2,330.0 660.6,331.8 C662.0,333.6 663.7,337.9 665.1,338.5 C666.5,339.1 667.3,336.1 668.5,335.1 C669.7,334.1 670.7,334.0 671.9,332.9 C673.1,331.8 674.1,329.3 675.3,328.9 C676.5,328.5 677.6,330.3 678.7,330.6 C679.8,330.9 680.5,330.0 681.5,330.6 C682.5,331.2 683.2,333.4 684.3,334.0 C685.4,334.6 686.5,335.4 687.7,334.0 C688.9,332.6 689.9,328.3 691.1,326.1 C692.3,323.9 693.4,323.2 694.5,321.6 C695.6,320.0 696.5,317.0 697.6,317.1 C698.7,317.2 699.5,323.0 700.9,322.1 C702.3,321.2 704.1,313.1 705.8,312.2 C707.5,311.3 708.8,315.1 710.8,317.1 C712.8,319.1 715.4,324.3 717.4,323.7 C719.4,323.1 720.3,317.5 722.3,313.8 C724.3,310.1 727.2,305.2 728.9,302.3 C730.6,299.4 730.7,296.4 732.2,297.3 C733.7,298.2 735.8,306.6 737.2,307.2 C738.6,307.8 738.7,301.2 740.4,300.6 C742.1,300.0 745.0,304.5 747.0,303.9 C749.0,303.3 750.3,298.5 752.0,297.3 C753.7,296.1 754.9,296.4 756.9,297.3 C758.9,298.2 761.5,302.6 763.5,302.3 C765.5,302.0 766.8,298.0 768.5,295.7 C770.2,293.4 771.7,293.1 773.4,289.1 C775.1,285.1 776.7,277.5 778.4,272.6 C780.1,267.7 781.6,262.8 783.3,261.1 C785.0,259.4 786.5,263.9 788.2,262.7 C789.9,261.5 791.2,257.9 793.2,254.5 C795.2,251.1 797.8,246.5 799.8,243.0 C801.8,239.5 803.0,238.2 804.7,234.7 C806.4,231.2 807.7,226.1 809.7,223.2 C811.7,220.3 814.0,219.7 816.3,218.2 C818.6,216.7 820.8,216.3 822.8,214.9 C824.8,213.5 826.0,212.4 827.8,210.0 C829.6,207.6 831.0,204.0 833.1,201.0 C835.2,198.0 837.4,195.1 839.7,192.8 C842.0,190.5 844.0,189.5 846.3,187.8 C848.6,186.1 850.5,184.3 852.8,182.9 C855.1,181.5 857.1,181.1 859.4,179.6 C861.7,178.1 863.5,176.3 866.0,174.6 C868.5,172.9 872.3,170.6 873.6,169.7" fill="none" stroke="#808080" stroke-width="2.90" stroke-linejoin="round" stroke-linecap="round" />
<path d="M478.6,185.0 C481.2,186.8 488.2,191.3 493.3,195.2 C498.4,199.0 502.8,202.9 507.9,207.0 C513.0,211.1 518.0,215.1 522.6,218.7 C527.2,222.3 530.5,224.4 534.4,227.5 C538.2,230.6 541.0,233.5 544.6,236.3 C548.2,239.1 551.0,240.5 554.9,243.6 C558.8,246.7 562.6,250.3 566.6,253.9 C570.6,257.5 573.4,260.6 577.6,263.9 C581.8,267.2 585.7,270.5 590.8,272.7 C595.9,274.9 601.5,274.7 606.9,276.4 C612.3,278.1 616.5,280.5 621.6,282.2 C626.7,283.9 631.7,284.7 636.3,285.9 C640.9,287.1 644.4,289.3 648.0,288.8 C651.6,288.3 653.7,284.3 656.8,283.0 C659.9,281.7 662.5,282.7 665.6,281.5 C668.7,280.3 671.3,278.1 674.4,276.4 C677.5,274.7 680.1,274.6 683.2,272.0 C686.3,269.4 689.6,264.2 692.1,261.7 C694.6,259.2 694.9,259.4 697.6,257.8 C700.3,256.2 704.0,254.2 707.5,252.8 C711.0,251.4 713.9,251.2 717.4,249.6 C720.9,248.0 724.1,245.4 727.6,243.8 C731.1,242.2 734.0,241.9 737.5,240.5 C741.0,239.1 743.9,237.9 747.4,235.6 C750.9,233.3 753.8,230.0 757.3,227.4 C760.8,224.8 763.8,223.1 767.2,220.8 C770.6,218.5 773.6,216.2 777.0,214.2 C780.4,212.2 783.7,210.9 786.9,209.2 C790.1,207.5 792.3,206.3 795.2,204.3 C798.1,202.3 800.2,200.0 803.4,197.7 C806.6,195.4 809.8,193.4 813.3,191.1 C816.8,188.8 819.7,186.5 823.2,184.5 C826.7,182.5 829.6,181.3 833.1,179.6 C836.6,177.9 839.6,176.3 843.0,174.6 C846.4,172.9 849.4,171.1 852.8,169.7 C856.2,168.3 859.1,167.6 862.7,166.4 C866.3,165.2 871.7,163.7 873.6,163.1" fill="none" stroke="#000" stroke-width="3.00" stroke-linejoin="round" stroke-linecap="round" />
<path d="M478.0,186.4 C479.5,187.4 483.7,189.7 486.8,192.3 C489.9,194.9 493.0,198.5 495.6,201.1 C498.2,203.7 499.5,205.2 501.5,207.0 C503.5,208.8 504.7,209.6 507.3,211.4 C509.9,213.2 513.1,215.2 516.2,217.2 C519.3,219.2 521.9,220.8 525.0,223.1 C528.1,225.4 531.2,227.8 533.8,230.4 C536.4,233.0 537.6,235.2 539.6,237.8 C541.6,240.4 543.4,243.3 545.5,245.1 C547.6,246.9 549.4,248.3 551.4,248.0 C553.4,247.7 555.2,244.8 557.2,243.6 C559.2,242.4 561.0,241.4 563.1,241.4 C565.2,241.4 567.2,242.4 569.0,243.6 C570.8,244.8 571.4,245.2 573.4,248.0 C575.4,250.8 578.8,256.7 580.7,259.8 C582.6,262.9 582.9,264.9 584.0,266.0 C585.1,267.1 585.8,268.1 586.8,266.1 C587.8,264.1 588.4,257.9 589.7,254.3 C591.0,250.7 592.3,248.2 594.1,245.5 C595.9,242.8 598.5,239.7 600.0,238.9 C601.5,238.1 601.9,239.4 602.9,241.1 C603.9,242.8 604.6,245.9 605.9,248.5 C607.2,251.1 608.8,256.1 610.3,255.8 C611.8,255.5 613.2,249.0 614.7,247.0 C616.2,245.0 617.3,245.1 619.1,244.1 C620.9,243.1 623.5,241.6 625.0,241.1 C626.5,240.6 626.9,239.3 627.9,241.1 C628.9,242.9 629.8,247.8 630.8,251.4 C631.8,255.0 632.8,259.1 633.8,261.7 C634.8,264.3 635.7,264.6 636.7,266.1 C637.7,267.6 638.6,268.5 639.6,270.5 C640.6,272.5 641.3,276.0 642.6,277.8 C643.9,279.6 645.5,280.3 647.0,280.8 C648.5,281.3 650.1,279.5 651.4,280.8 C652.7,282.1 653.0,285.8 654.3,288.1 C655.6,290.4 657.2,292.5 658.7,294.0 C660.2,295.5 661.6,295.4 663.1,296.9 C664.6,298.4 666.0,304.6 667.5,302.8 C669.0,301.0 670.6,290.7 671.9,286.6 C673.2,282.5 673.5,280.8 674.8,279.3 C676.1,277.8 677.7,277.0 679.2,277.8 C680.7,278.6 682.0,281.6 683.6,283.7 C685.2,285.8 686.5,288.1 688.1,289.6 C689.7,291.1 691.0,292.3 692.5,292.5 C694.0,292.7 695.4,289.5 696.9,291.0 C698.4,292.5 699.6,299.7 701.3,301.3 C703.0,302.9 704.5,299.0 706.6,300.3 C708.7,301.6 710.9,308.5 713.2,308.5 C715.5,308.5 717.5,302.0 719.8,300.3 C722.1,298.6 724.1,299.6 726.4,298.7 C728.7,297.8 730.7,295.7 733.0,295.4 C735.3,295.1 737.3,296.4 739.6,297.0 C741.9,297.6 743.8,298.7 746.1,298.7 C748.4,298.7 750.7,297.3 752.7,297.0 C754.7,296.7 756.0,296.1 757.7,297.0 C759.4,297.9 760.9,302.3 762.6,302.0 C764.3,301.7 765.9,297.1 767.6,295.4 C769.3,293.7 770.8,295.0 772.5,292.1 C774.2,289.2 775.8,284.1 777.5,278.9 C779.2,273.7 780.7,265.0 782.4,262.4 C784.1,259.8 785.6,264.3 787.3,264.0 C789.0,263.7 790.6,264.0 792.3,260.8 C794.0,257.6 795.5,250.5 797.2,245.9 C798.9,241.3 800.5,236.8 802.2,234.4 C803.9,232.0 805.7,234.0 807.1,232.0 C808.5,230.0 809.2,227.9 810.4,222.8 C811.6,217.7 812.7,207.3 814.1,202.7 C815.5,198.1 817.0,199.3 818.6,196.7 C820.2,194.1 821.9,191.0 823.2,187.6 C824.5,184.2 824.9,180.2 826.2,177.0 C827.5,173.8 829.1,171.4 830.7,169.5 C832.3,167.6 834.0,168.8 835.3,166.4 C836.6,164.0 837.0,158.3 838.3,155.9 C839.6,153.5 840.9,153.6 842.8,152.8 C844.7,152.0 846.8,151.8 848.9,151.3 C851.0,150.8 852.8,150.2 854.9,149.8 C857.0,149.4 859.1,148.6 861.0,149.1 C862.9,149.6 863.2,152.2 865.5,152.8 C867.8,153.4 872.5,152.8 874.0,152.8" fill="none" stroke="#00c800" stroke-width="2.90" stroke-linejoin="round" stroke-linecap="round" />
<path d="M478.0,180.5 C479.5,182.0 483.7,186.5 486.8,189.3 C489.9,192.1 492.5,194.1 495.6,196.7 C498.7,199.3 501.3,201.4 504.4,204.0 C507.5,206.6 510.1,208.8 513.2,211.4 C516.3,214.0 518.9,216.4 522.0,218.7 C525.1,221.0 527.7,222.3 530.8,224.6 C533.9,226.9 537.0,229.3 539.6,231.9 C542.2,234.5 543.4,237.2 545.5,239.2 C547.6,241.2 549.4,242.3 551.4,243.6 C553.4,244.9 555.2,246.1 557.2,246.6 C559.2,247.1 561.0,246.4 563.1,246.6 C565.2,246.8 567.0,246.7 569.0,248.0 C571.0,249.3 573.2,251.8 574.8,253.9 C576.4,256.0 576.4,258.3 578.0,260.2 C579.6,262.1 582.4,262.8 583.9,264.6 C585.4,266.4 585.8,268.4 586.8,270.5 C587.8,272.6 588.7,274.4 589.7,276.4 C590.7,278.4 591.4,281.4 592.7,282.2 C594.0,283.0 595.8,282.3 597.1,280.8 C598.4,279.3 599.0,273.9 600.0,273.4 C601.0,272.9 601.9,276.0 602.9,277.8 C603.9,279.6 604.6,283.9 605.9,283.7 C607.2,283.5 608.9,278.4 610.3,276.4 C611.7,274.4 612.7,271.8 614.0,272.0 C615.3,272.2 616.2,275.8 617.6,277.8 C619.0,279.8 620.5,282.2 622.0,283.7 C623.5,285.2 624.9,284.8 626.4,286.6 C627.9,288.4 629.5,291.9 630.8,294.0 C632.1,296.1 632.5,299.2 633.8,298.4 C635.1,297.6 636.7,291.7 638.2,289.6 C639.7,287.5 641.1,286.9 642.6,286.6 C644.1,286.3 645.5,286.0 647.0,288.1 C648.5,290.2 649.9,296.9 651.4,298.4 C652.9,299.9 654.3,299.0 655.8,296.9 C657.3,294.8 658.7,290.2 660.2,286.6 C661.7,283.0 663.1,277.4 664.6,276.4 C666.1,275.4 667.5,276.9 669.0,280.8 C670.5,284.7 672.1,297.4 673.4,298.4 C674.7,299.4 675.3,289.7 676.3,286.6 C677.3,283.5 678.2,280.3 679.2,280.8 C680.2,281.3 681.2,286.3 682.2,289.6 C683.2,292.9 683.8,299.8 685.1,299.8 C686.4,299.8 688.0,292.9 689.5,289.6 C691.0,286.3 692.6,284.4 693.9,280.8 C695.2,277.2 695.6,274.1 696.9,269.0 C698.2,263.9 700.0,252.4 701.3,251.4 C702.6,250.4 703.3,258.4 704.2,263.2 C705.1,268.0 705.3,273.8 706.6,278.9 C707.9,284.0 709.5,289.2 711.5,292.1 C713.5,295.0 716.1,294.2 718.1,295.4 C720.1,296.6 721.4,297.5 723.1,298.7 C724.8,299.9 726.3,303.7 728.0,302.0 C729.7,300.3 731.3,291.4 733.0,288.8 C734.7,286.2 736.2,288.3 737.9,287.1 C739.6,285.9 741.4,280.7 742.8,282.2 C744.2,283.7 744.9,292.5 746.1,295.4 C747.3,298.3 747.9,299.3 749.4,298.7 C750.9,298.1 752.4,293.0 754.4,292.1 C756.4,291.2 759.0,295.4 761.0,293.7 C763.0,292.0 764.5,286.5 765.9,282.2 C767.3,277.9 768.0,272.5 769.2,269.0 C770.4,265.5 771.3,266.4 772.5,262.4 C773.7,258.4 774.6,249.6 775.8,245.9 C777.0,242.2 777.9,241.6 779.1,241.0 C780.3,240.4 781.2,244.6 782.4,242.6 C783.6,240.6 784.8,233.7 785.7,229.4 C786.6,225.1 786.9,223.9 787.6,217.9 C788.3,211.9 789.0,201.8 789.9,195.2 C790.8,188.6 791.6,185.5 792.9,180.1 C794.2,174.7 795.9,166.9 797.5,164.2 C799.1,161.5 800.4,165.6 802.0,164.9 C803.6,164.2 804.6,161.6 806.5,160.4 C808.4,159.2 810.5,158.8 812.6,158.1 C814.7,157.4 816.5,156.7 818.6,156.6 C820.7,156.5 822.6,156.7 824.7,157.4 C826.8,158.1 828.6,159.2 830.7,160.4 C832.8,161.6 834.7,163.4 836.8,164.2 C838.9,165.0 840.7,165.3 842.8,164.9 C844.9,164.5 846.8,162.0 848.9,161.9 C851.0,161.8 852.3,164.1 854.9,164.2 C857.5,164.3 860.7,163.2 864.0,162.7 C867.3,162.2 872.2,161.5 874.0,161.2" fill="none" stroke="#008080" stroke-width="2.90" stroke-linejoin="round" stroke-linecap="round" />
<path d="M478.0,185.0 C479.5,186.0 483.7,188.5 486.8,190.8 C489.9,193.1 492.5,195.6 495.6,198.2 C498.7,200.8 501.3,202.4 504.4,205.5 C507.5,208.6 510.1,212.7 513.2,215.8 C516.3,218.9 518.9,221.1 522.0,223.1 C525.1,225.1 528.2,225.5 530.8,227.5 C533.4,229.5 534.6,232.2 536.7,234.8 C538.8,237.4 540.6,239.4 542.6,242.2 C544.6,245.0 545.8,248.7 548.4,251.0 C551.0,253.3 554.6,254.4 557.2,255.4 C559.8,256.4 561.3,255.8 563.1,256.8 C564.9,257.8 566.0,259.1 567.5,261.2 C569.0,263.3 570.1,265.8 571.9,268.6 C573.7,271.4 575.8,274.8 577.8,277.4 C579.8,280.0 582.1,282.3 583.6,283.3 C585.1,284.3 585.6,284.3 586.6,283.3 C587.6,282.3 588.0,278.9 589.5,277.4 C591.0,275.9 593.9,276.3 595.4,274.5 C596.9,272.7 597.3,269.7 598.3,267.1 C599.3,264.5 600.3,261.6 601.3,259.8 C602.3,258.0 603.2,257.8 604.2,256.8 C605.2,255.8 606.2,255.8 607.3,254.3 C608.4,252.8 609.3,248.7 610.3,248.5 C611.3,248.3 611.9,250.6 613.2,252.9 C614.5,255.2 616.1,258.9 617.6,261.7 C619.1,264.5 620.7,267.0 622.0,269.0 C623.3,271.0 624.0,270.8 625.0,273.4 C626.0,276.0 626.9,279.8 627.9,283.7 C628.9,287.6 629.8,291.8 630.8,295.4 C631.8,299.0 632.8,304.4 633.8,304.2 C634.8,304.0 635.7,296.3 636.7,294.0 C637.7,291.7 638.6,291.0 639.6,291.0 C640.6,291.0 641.6,294.2 642.6,294.0 C643.6,293.8 644.2,291.1 645.5,289.6 C646.8,288.1 648.4,285.2 649.9,285.2 C651.4,285.2 652.8,288.1 654.3,289.6 C655.8,291.1 657.2,292.0 658.7,294.0 C660.2,296.0 661.6,301.1 663.1,301.3 C664.6,301.5 666.0,294.4 667.5,295.4 C669.0,296.4 670.6,303.1 671.9,307.2 C673.2,311.3 673.8,318.9 674.8,318.9 C675.8,318.9 676.5,311.3 677.8,307.2 C679.1,303.1 680.7,299.5 682.2,295.4 C683.7,291.3 685.1,286.0 686.6,283.7 C688.1,281.4 689.5,279.9 691.0,282.2 C692.5,284.5 693.9,297.1 695.4,296.9 C696.9,296.7 698.6,285.5 699.8,280.8 C701.0,276.1 701.1,273.2 702.0,270.0 C702.9,266.8 703.5,261.1 704.9,262.4 C706.3,263.7 708.2,271.4 709.9,277.2 C711.6,283.0 713.1,289.3 714.8,295.4 C716.5,301.5 718.1,308.4 719.8,311.8 C721.5,315.2 723.3,316.3 724.7,315.1 C726.1,313.9 726.5,308.4 728.0,305.2 C729.5,302.0 731.3,298.1 733.0,297.0 C734.7,295.9 736.2,298.4 737.9,298.7 C739.6,299.0 741.1,297.8 742.8,298.7 C744.5,299.6 746.1,303.6 747.8,303.6 C749.5,303.6 751.3,300.1 752.7,298.7 C754.1,297.3 754.5,300.3 756.0,295.4 C757.5,290.5 759.3,279.0 761.0,270.6 C762.7,262.2 764.2,253.1 765.9,247.6 C767.6,242.1 769.2,239.6 770.9,239.3 C772.6,239.0 774.4,243.6 775.8,245.9 C777.2,248.2 777.9,252.5 779.1,252.5 C780.3,252.5 781.0,249.6 782.4,245.9 C783.8,242.2 785.6,233.4 787.3,231.1 C789.0,228.8 790.6,233.3 792.3,232.7 C794.0,232.1 795.5,228.7 797.2,227.8 C798.9,226.9 800.5,229.5 802.2,227.8 C803.9,226.1 805.4,222.8 807.1,217.9 C808.8,213.0 810.6,204.4 812.1,199.8 C813.6,195.2 814.3,193.4 815.4,191.5 C816.5,189.6 817.2,191.1 818.6,189.1 C820.0,187.1 821.9,183.5 823.2,180.1 C824.5,176.7 824.9,172.5 826.2,169.5 C827.5,166.5 829.1,162.7 830.7,162.7 C832.3,162.7 834.0,167.9 835.3,169.5 C836.6,171.1 837.0,172.2 838.3,171.7 C839.6,171.2 841.2,168.4 842.8,166.4 C844.4,164.4 845.3,161.7 847.4,160.4 C849.5,159.1 852.5,159.6 854.9,158.9 C857.3,158.2 858.9,157.3 861.0,156.6 C863.1,155.9 864.7,155.4 867.0,155.1 C869.3,154.8 872.8,155.1 874.0,155.1" fill="none" stroke="#0000ff" stroke-width="2.90" stroke-linejoin="round" stroke-linecap="round" />
<path d="M478.0,187.9 C479.5,188.9 483.7,191.7 486.8,193.7 C489.9,195.7 492.5,197.0 495.6,199.6 C498.7,202.2 501.8,205.6 504.4,208.4 C507.0,211.2 508.2,213.2 510.3,215.8 C512.4,218.4 514.2,221.6 516.2,223.1 C518.2,224.6 520.0,224.1 522.0,224.6 C524.0,225.1 525.8,225.5 527.9,226.0 C530.0,226.5 531.8,226.7 533.8,227.5 C535.8,228.3 537.6,229.6 539.6,230.4 C541.6,231.2 543.4,232.1 545.5,231.9 C547.6,231.7 549.6,229.3 551.4,229.0 C553.2,228.7 554.3,228.9 555.8,230.4 C557.3,231.9 558.4,234.7 560.2,237.8 C562.0,240.9 564.0,245.7 566.0,248.0 C568.0,250.3 570.1,248.9 571.9,251.0 C573.7,253.1 574.8,256.2 576.3,259.8 C577.8,263.4 578.9,268.4 580.7,271.5 C582.5,274.6 584.5,275.9 586.6,277.4 C588.7,278.9 590.5,279.0 592.5,280.3 C594.5,281.6 596.3,283.2 598.3,284.7 C600.3,286.2 602.6,288.5 604.2,289.1 C605.8,289.7 605.7,288.5 607.3,288.1 C608.9,287.7 611.4,287.1 613.2,286.6 C615.0,286.1 616.1,284.4 617.6,285.2 C619.1,286.0 620.5,287.9 622.0,291.0 C623.5,294.1 625.1,299.7 626.4,302.8 C627.7,305.9 627.9,307.8 629.4,308.6 C630.9,309.4 633.4,307.2 635.2,307.2 C637.0,307.2 638.1,308.4 639.6,308.6 C641.1,308.8 642.5,309.6 644.0,308.6 C645.5,307.6 646.9,305.1 648.4,302.8 C649.9,300.5 651.3,296.2 652.8,295.4 C654.3,294.6 655.7,295.3 657.2,298.4 C658.7,301.5 659.8,308.9 661.6,313.0 C663.4,317.1 665.7,322.3 667.5,321.8 C669.3,321.3 670.6,313.2 671.9,310.1 C673.2,307.0 673.5,303.2 674.8,304.2 C676.1,305.2 677.7,313.7 679.2,316.0 C680.7,318.3 681.5,318.7 683.6,317.4 C685.7,316.1 688.9,309.1 691.0,308.6 C693.1,308.1 693.6,312.2 695.4,314.5 C697.2,316.8 699.3,322.0 701.3,321.8 C703.3,321.6 704.5,314.1 706.6,313.5 C708.7,312.9 711.2,316.7 713.2,318.4 C715.2,320.1 716.4,325.4 718.1,323.4 C719.8,321.4 721.4,311.5 723.1,306.9 C724.8,302.3 726.3,299.3 728.0,297.0 C729.7,294.7 731.3,292.3 733.0,293.7 C734.7,295.1 736.5,308.4 737.9,305.2 C739.3,302.0 740.0,286.0 741.2,275.6 C742.4,265.2 743.4,255.4 744.5,245.9 C745.6,236.4 746.7,224.1 747.6,221.2 C748.5,218.3 748.9,226.5 749.4,229.4 C749.9,232.3 750.0,232.8 750.6,237.5 C751.2,242.2 751.8,253.1 752.7,256.0 C753.6,258.9 754.8,257.1 756.0,254.2 C757.2,251.3 758.1,246.5 759.3,239.3 C760.5,232.1 761.5,221.5 762.6,213.0 C763.7,204.5 764.4,195.0 765.7,190.6 C767.0,186.2 768.3,190.2 770.2,187.6 C772.1,185.0 774.2,176.6 776.3,175.5 C778.4,174.4 780.7,180.3 782.3,181.6 C783.9,182.9 784.1,183.9 785.4,183.1 C786.7,182.3 788.3,180.3 789.9,177.0 C791.5,173.7 792.8,165.5 794.4,164.2 C796.0,162.9 797.1,168.0 799.0,169.5 C800.9,171.0 802.6,171.7 805.0,172.5 C807.4,173.3 809.9,173.7 812.6,174.0 C815.3,174.3 818.1,173.7 820.2,174.0 C822.3,174.3 822.9,175.8 824.7,175.5 C826.5,175.2 828.3,172.8 830.7,172.5 C833.1,172.2 835.6,174.0 838.3,174.0 C841.0,174.0 843.0,173.3 845.9,172.5 C848.8,171.7 851.7,170.4 854.9,169.5 C858.1,168.6 860.7,167.9 864.0,167.2 C867.3,166.5 872.2,166.0 874.0,165.7" fill="none" stroke="#8b0080" stroke-width="2.90" stroke-linejoin="round" stroke-linecap="round" />
</g>
<g clip-path="url(#c10)">
<polygon points="51.0,611.0 178.0,611.0 183.0,608.0 189.2,597.9 197.4,573.3 201.5,536.4 205.6,511.9 209.7,497.6 213.8,487.3 219.9,471.0 226.1,462.8 231.6,463.1 240.0,457.4 248.5,446.2 254.2,449.0 259.8,454.6 265.4,468.7 270.0,487.4 274.5,502.3 278.9,517.2 283.4,526.1 287.5,535.0 291.7,547.5 294.7,557.3 297.6,560.2 300.6,548.4 303.6,548.4 306.5,557.3 309.5,575.1 312.5,581.0 315.5,578.1 318.4,593.0 321.4,601.9 324.4,607.8 328.0,611.0 446.0,611.0 446.0,611.0 330.0,611.0 260.0,611.0 254.3,609.0 248.0,607.4 244.8,602.7 241.6,594.8 238.5,590.0 235.3,594.8 232.2,590.0 229.0,588.5 225.8,574.3 224.3,552.1 222.7,544.2 221.1,547.4 218.0,590.0 214.8,594.8 208.5,596.4 203.7,594.8 197.4,601.1 191.1,605.8 183.2,609.0 178.0,611.0 51.0,611.0" fill="#bfbfbf" stroke="#94d3e8" stroke-width="3.4" stroke-linejoin="round"/>
<path d="M51.0,610.8 C68.3,610.7 132.3,611.0 150.0,610.5 C152.3,610.0 150.5,608.9 152.3,608.1 C154.1,607.3 158.2,611.4 160.5,606.0 C162.8,600.6 164.2,585.6 165.6,577.4 C167.0,569.2 167.4,559.7 168.7,559.0 C170.0,558.3 171.5,575.1 172.8,573.3 C174.1,571.5 174.8,550.9 175.9,548.7 C177.0,546.5 178.0,562.4 178.9,561.0 C179.8,559.6 180.1,545.5 181.0,540.5 C181.9,535.5 183.0,539.9 184.1,532.4 C185.2,524.9 186.2,503.0 187.1,497.6 C188.0,492.2 188.1,503.4 189.2,501.6 C190.3,499.8 191.9,492.7 193.3,487.3 C194.7,481.9 196.0,477.3 197.4,470.9 C198.8,464.5 200.1,456.0 201.5,450.5 C202.9,445.0 204.2,439.9 205.6,439.2 C207.0,438.5 208.5,445.5 209.7,446.4 C210.9,447.3 211.7,448.8 212.7,444.3 C213.7,439.8 214.6,425.4 215.6,420.8 C216.6,416.2 217.3,422.0 218.5,418.0 C219.7,414.0 221.0,404.6 222.7,398.2 C224.4,391.8 226.8,381.3 228.3,381.3 C229.8,381.3 230.2,396.2 231.2,398.2 C232.2,400.2 232.5,394.6 234.0,392.6 C235.5,390.6 237.9,386.4 239.6,386.9 C241.3,387.4 242.4,396.9 243.9,395.4 C245.4,393.9 246.9,382.2 248.1,378.5 C249.3,374.8 249.4,374.2 250.9,374.2 C252.4,374.2 254.9,376.8 256.6,378.5 C258.3,380.2 259.3,379.7 260.8,384.1 C262.3,388.5 263.7,399.9 265.0,403.9 C266.3,407.9 267.2,404.2 268.3,406.7 C269.4,409.2 270.0,412.2 271.1,418.0 C272.2,423.8 273.2,433.5 274.4,440.0 C275.6,446.5 276.6,452.4 278.0,455.0 C279.4,457.6 280.6,453.2 282.4,454.6 C284.1,456.0 286.0,463.1 288.0,463.1 C290.0,463.1 292.0,454.6 293.7,454.6 C295.4,454.6 296.3,460.9 297.6,463.2 C298.9,465.5 299.7,466.3 301.0,468.0 C302.3,469.7 303.5,474.4 305.3,472.9 C307.1,471.4 309.4,459.6 311.1,459.3 C312.8,459.0 314.0,470.0 315.0,471.0 C316.0,472.0 315.6,461.1 316.9,465.2 C318.2,469.3 320.8,490.5 322.7,494.2 C324.6,497.9 325.9,484.4 327.6,486.4 C329.3,488.4 331.2,503.8 332.4,505.8 C333.6,507.8 333.4,492.6 334.4,498.0 C335.4,503.4 336.5,527.9 338.2,536.7 C339.9,545.5 342.0,542.2 344.0,548.3 C346.0,554.4 348.4,570.2 349.8,571.6 C351.2,573.0 350.8,554.1 351.8,556.1 C352.8,558.1 354.3,574.1 355.6,583.2 C356.9,592.3 358.2,603.5 359.5,608.3 C360.8,613.1 361.8,610.5 363.0,610.5 C364.2,610.5 365.2,608.2 366.3,608.3 C367.4,608.4 366.3,610.4 369.0,610.8 C382.9,611.2 432.5,610.8 446.0,610.8" fill="none" stroke="#808080" stroke-width="2.90" stroke-linejoin="round" stroke-linecap="round" />
<path d="M51.0,610.8 C66.6,610.7 122.7,610.7 140.0,610.5 C150.0,610.3 145.5,610.3 150.0,609.8 C154.5,609.3 161.1,608.9 165.8,607.4 C170.5,605.9 173.3,603.9 176.9,601.1 C180.5,598.3 183.3,595.5 186.3,591.6 C189.3,587.7 191.7,583.1 194.2,579.0 C196.7,574.9 198.7,572.6 200.6,567.9 C202.5,563.2 203.9,556.2 205.3,552.1 C206.7,548.0 207.1,546.1 208.5,544.2 C209.9,542.3 211.8,543.3 213.2,541.1 C214.6,538.9 215.3,534.9 216.4,531.6 C217.5,528.3 218.4,523.5 219.5,522.1 C220.6,520.7 221.9,522.9 222.7,523.7 C223.5,524.5 223.5,527.0 224.3,526.9 C225.1,526.8 226.3,523.0 227.4,522.9 C228.5,522.8 229.2,526.2 230.6,526.1 C232.0,526.0 233.5,523.3 235.3,522.1 C237.1,520.9 239.2,519.1 240.9,519.0 C242.6,518.9 243.3,520.3 244.8,521.3 C246.3,522.3 247.8,524.1 249.5,524.5 C251.2,524.9 252.3,522.9 254.3,523.7 C256.3,524.5 258.6,525.7 260.8,529.0 C263.0,532.3 265.0,539.1 266.6,542.5 C268.2,545.9 267.8,544.6 270.0,548.4 C272.2,552.2 276.3,560.6 278.9,564.2 C281.5,567.8 282.6,567.3 284.9,569.2 C287.2,571.1 289.7,573.0 292.3,575.1 C294.9,577.2 296.8,578.9 299.7,581.0 C302.6,583.1 306.2,584.7 308.6,587.0 C311.0,589.3 311.3,592.3 313.5,594.4 C315.7,596.5 318.2,597.3 321.4,598.9 C324.6,600.5 328.7,601.9 331.8,603.3 C334.9,604.7 335.9,605.9 339.4,607.0 C342.9,608.1 348.3,608.9 351.8,609.5 C355.3,610.1 351.8,610.3 359.5,610.5 C376.0,610.7 430.9,610.7 446.0,610.8" fill="none" stroke="#000" stroke-width="3.00" stroke-linejoin="round" stroke-linecap="round" />
<path d="M51.0,610.8 C74.1,610.8 159.5,611.6 183.0,610.8 C185.1,610.0 183.3,612.6 185.1,606.0 C186.9,599.4 190.8,585.5 193.3,573.3 C195.8,561.1 197.6,545.4 199.4,536.4 C201.2,527.4 202.1,530.7 203.5,522.1 C204.9,513.5 206.3,492.7 207.6,487.3 C208.9,481.9 209.8,487.8 210.7,491.4 C211.6,495.0 211.8,507.8 212.7,507.8 C213.6,507.8 214.5,497.8 215.8,491.4 C217.1,485.0 218.5,478.2 219.9,471.0 C221.3,463.8 222.8,455.4 224.0,450.5 C225.2,445.6 225.4,448.2 226.6,443.1 C227.8,438.0 229.4,428.4 230.6,421.5 C231.8,414.6 232.3,408.2 233.3,403.9 C234.3,399.6 235.1,397.6 236.1,397.1 C237.1,396.6 237.9,403.6 238.8,401.2 C239.7,398.8 240.7,385.4 241.5,383.5 C242.3,381.6 242.8,386.0 243.5,390.3 C244.2,394.6 244.9,403.2 245.5,407.9 C246.1,412.6 246.4,412.2 246.9,417.4 C247.4,422.6 247.7,432.7 248.2,437.7 C248.7,442.7 248.9,447.1 249.6,445.9 C250.3,444.7 251.4,432.8 252.3,430.9 C253.2,429.0 254.1,431.4 255.0,435.0 C255.9,438.6 256.8,450.8 257.7,451.3 C258.6,451.8 259.5,435.3 260.4,437.7 C261.3,440.1 262.3,461.0 263.1,464.8 C263.9,468.6 263.8,450.1 264.7,459.3 C265.6,468.5 267.2,497.1 268.5,517.4 C269.8,537.7 271.4,559.8 272.4,575.4 C273.4,591.0 273.0,600.6 274.4,606.4 C275.8,612.2 277.8,608.3 280.2,608.3 C282.6,608.3 285.3,606.0 287.9,606.4 C290.5,606.8 292.4,610.0 295.0,610.8 C297.6,611.6 301.2,612.6 303.0,610.8 C304.8,609.0 304.4,600.6 305.3,600.6 C306.2,600.6 305.3,609.0 308.0,610.8 C332.6,612.6 421.9,610.8 446.0,610.8" fill="none" stroke="#c47a00" stroke-width="2.90" stroke-linejoin="round" stroke-linecap="round" />
<path d="M51.0,610.8 C69.7,610.8 138.8,611.3 158.0,610.8 C160.5,610.3 159.3,611.8 160.5,608.1 C161.7,604.4 163.2,591.1 164.6,589.7 C166.0,588.3 166.9,599.2 168.7,599.9 C170.5,600.6 173.0,596.3 174.8,593.8 C176.6,591.3 177.5,584.2 178.9,585.6 C180.3,587.0 181.2,602.0 183.0,602.0 C184.8,602.0 187.0,591.7 189.2,585.6 C191.4,579.5 193.1,570.1 195.3,567.2 C197.5,564.3 200.1,566.7 201.5,569.2 C202.9,571.7 202.8,584.4 203.5,581.5 C204.2,578.6 204.5,568.6 205.6,552.8 C206.7,537.0 208.6,502.7 209.7,491.4 C210.8,480.1 211.2,491.2 212.0,488.0 C212.8,484.8 213.3,479.3 214.4,472.9 C215.5,466.5 217.0,457.5 218.4,451.3 C219.8,445.1 221.3,440.8 222.5,437.7 C223.7,434.6 224.3,432.3 225.2,433.7 C226.1,435.1 227.0,440.9 227.9,445.9 C228.8,450.9 229.4,462.1 230.6,462.1 C231.8,462.1 233.5,451.1 234.7,445.9 C235.9,440.7 236.5,437.3 237.4,432.3 C238.3,427.3 239.2,421.7 240.1,417.4 C241.0,413.1 241.9,408.4 242.8,407.9 C243.7,407.4 244.6,408.1 245.5,414.7 C246.4,421.3 247.4,442.3 248.2,445.9 C249.0,449.5 249.6,439.7 250.3,435.0 C251.0,430.3 251.5,418.8 252.3,418.8 C253.1,418.8 254.1,433.6 255.0,435.0 C255.9,436.4 256.8,428.8 257.7,426.9 C258.6,425.0 259.5,422.3 260.4,424.2 C261.3,426.1 262.2,433.9 263.1,437.7 C264.0,441.5 264.8,443.0 265.8,445.9 C266.8,448.8 267.6,450.7 268.6,454.0 C269.6,457.3 270.3,460.5 271.3,464.8 C272.3,469.1 273.2,469.0 274.4,478.7 C275.6,488.4 276.7,506.5 278.0,520.0 C279.3,533.5 281.1,543.7 282.1,556.1 C283.2,568.5 282.7,590.9 284.0,590.9 C285.3,590.9 288.1,567.6 289.8,556.1 C291.5,544.6 292.3,529.5 293.7,525.1 C295.1,520.7 296.1,522.8 297.6,530.9 C299.1,539.0 300.7,570.6 302.4,571.6 C304.1,572.6 305.8,546.5 307.3,536.7 C308.8,526.9 309.4,515.8 311.1,515.5 C312.8,515.2 315.2,526.0 316.9,534.8 C318.6,543.6 319.4,552.4 320.8,565.7 C322.2,579.0 320.8,602.9 324.7,610.8 C346.6,618.7 424.8,610.8 446.0,610.8" fill="none" stroke="#ff8000" stroke-width="2.90" stroke-linejoin="round" stroke-linecap="round" />
<path d="M51.0,610.8 C73.2,610.8 155.2,611.3 178.0,610.8 C181.0,610.3 179.8,611.8 181.0,608.1 C182.2,604.4 183.7,596.5 185.1,589.7 C186.5,582.9 187.8,573.5 189.2,569.2 C190.6,564.9 191.9,564.8 193.3,565.1 C194.7,565.5 196.0,572.6 197.4,571.2 C198.8,569.8 200.1,564.4 201.5,556.9 C202.9,549.4 204.2,539.8 205.6,528.3 C207.0,516.8 208.3,499.6 209.7,491.4 C211.1,483.2 212.8,488.2 213.8,481.2 C214.9,474.2 214.6,454.2 215.7,451.3 C216.8,448.4 218.6,462.7 219.8,464.8 C221.0,466.9 221.3,459.9 222.5,463.5 C223.7,467.1 225.4,487.2 226.6,485.1 C227.8,483.0 228.4,458.9 229.3,451.3 C230.2,443.7 231.1,442.7 232.0,441.8 C232.9,440.9 233.8,443.3 234.7,445.9 C235.6,448.5 236.5,452.7 237.4,456.7 C238.3,460.7 239.2,470.8 240.1,468.9 C241.0,467.0 241.9,452.1 242.8,445.9 C243.7,439.7 244.6,435.8 245.5,433.7 C246.4,431.6 247.3,433.0 248.2,433.7 C249.1,434.4 249.9,437.5 250.9,437.7 C251.9,437.9 252.7,436.9 253.7,435.0 C254.7,433.1 255.5,432.8 256.4,426.9 C257.3,421.0 258.3,408.9 259.1,401.2 C259.9,393.5 260.4,385.3 261.1,382.9 C261.8,380.5 262.4,382.8 263.1,387.6 C263.8,392.4 264.5,403.2 265.2,410.6 C265.9,418.0 266.4,425.6 267.2,429.6 C268.0,433.6 269.0,430.1 269.9,433.7 C270.8,437.3 271.7,444.5 272.6,449.9 C273.5,455.3 274.4,462.2 275.3,464.8 C276.2,467.4 277.1,464.1 278.0,464.8 C278.9,465.5 279.7,470.1 280.7,468.9 C281.7,467.7 282.5,464.9 283.5,458.0 C284.5,451.1 285.4,435.3 286.2,429.6 C287.0,423.9 287.5,426.0 288.2,425.5 C288.9,425.0 289.4,424.5 290.2,426.9 C291.0,429.3 292.0,434.1 292.9,439.1 C293.8,444.1 294.4,445.2 295.6,455.5 C296.8,465.8 298.5,485.5 299.5,498.0 C300.5,510.5 300.4,513.6 301.4,527.1 C302.4,540.6 304.3,564.6 305.3,575.4 C306.3,586.2 306.3,589.7 307.3,589.0 C308.3,588.3 309.8,573.3 311.1,571.6 C312.4,569.9 313.6,575.2 315.0,579.3 C316.4,583.4 317.6,591.4 318.9,594.8 C320.2,598.2 321.4,595.8 322.7,598.6 C324.0,601.4 322.7,608.7 326.6,610.8 C348.2,612.9 425.1,610.8 446.0,610.8" fill="none" stroke="#ff0000" stroke-width="2.90" stroke-linejoin="round" stroke-linecap="round" />
<path d="M51.0,610.8 C71.8,610.8 148.0,611.3 170.0,610.8 C176.9,610.3 175.0,608.9 176.9,608.1 C178.8,607.3 179.7,612.1 181.0,606.0 C182.3,599.9 183.0,588.0 184.1,573.3 C185.2,558.6 185.9,533.6 187.1,522.1 C188.3,510.6 189.8,513.2 191.2,507.8 C192.6,502.4 193.8,498.9 195.3,491.4 C196.8,483.9 198.1,472.5 199.5,464.8 C200.9,457.1 202.3,449.6 203.5,447.2 C204.7,444.8 205.3,448.2 206.3,451.3 C207.3,454.4 208.1,461.0 209.0,464.8 C209.9,468.6 210.8,473.4 211.7,472.9 C212.6,472.4 213.5,470.2 214.4,462.1 C215.3,454.1 216.4,434.7 217.1,426.9 C217.8,419.1 217.7,418.6 218.4,417.4 C219.1,416.2 220.2,421.3 221.2,420.1 C222.2,418.9 223.0,415.6 223.9,410.6 C224.8,405.6 225.7,396.7 226.6,391.7 C227.5,386.7 228.6,381.3 229.3,382.2 C230.0,383.1 229.9,393.5 230.6,397.1 C231.3,400.7 232.3,403.4 233.3,402.5 C234.3,401.6 235.1,393.6 236.1,391.7 C237.1,389.8 237.9,392.2 238.8,391.7 C239.7,391.2 240.6,388.3 241.5,389.0 C242.4,389.7 243.3,396.2 244.2,395.7 C245.1,395.2 245.8,390.0 246.9,386.3 C248.0,382.6 249.1,376.1 250.3,374.7 C251.5,373.3 252.6,377.0 253.7,378.1 C254.8,379.2 255.5,378.4 256.4,380.8 C257.3,383.2 258.2,385.8 259.1,391.7 C260.0,397.6 261.0,407.1 261.8,414.7 C262.6,422.3 263.1,428.6 263.8,435.0 C264.5,441.4 265.0,448.0 265.8,451.3 C266.6,454.6 267.6,451.2 268.6,454.0 C269.6,456.8 270.4,467.0 271.3,467.5 C272.2,468.0 273.1,457.2 274.0,456.7 C274.9,456.2 275.8,459.1 276.7,464.8 C277.6,470.5 278.3,471.9 279.4,489.2 C280.5,506.5 281.6,555.5 283.1,563.8 C284.6,572.1 286.5,547.9 287.9,536.7 C289.3,525.5 289.7,511.2 291.0,500.0 C292.3,488.8 294.4,478.1 295.6,472.9 C296.8,467.6 297.0,468.3 298.0,470.0 C299.0,471.7 299.9,476.7 301.4,482.6 C302.9,488.5 305.3,494.3 306.3,503.8 C307.3,513.3 306.8,524.2 307.3,536.7 C307.8,549.2 308.2,568.6 309.2,575.4 C310.2,582.2 311.8,574.7 313.1,575.4 C314.4,576.1 315.6,575.2 316.9,579.3 C318.2,583.4 319.4,593.1 320.8,598.6 C322.2,604.1 320.8,608.7 324.7,610.8 C346.6,612.9 424.8,610.8 446.0,610.8" fill="none" stroke="#b81212" stroke-width="2.90" stroke-linejoin="round" stroke-linecap="round" />
</g>
<g clip-path="url(#c11)">
<polygon points="478.6,611.0 605.6,611.0 610.6,608.0 616.8,597.9 625.0,573.3 629.1,536.4 633.2,511.9 637.3,497.6 641.4,487.3 647.5,471.0 653.7,462.8 659.2,463.1 667.6,457.4 676.1,446.2 681.8,449.0 687.4,454.6 693.0,468.7 697.6,487.4 702.1,502.3 706.5,517.2 711.0,526.1 715.1,535.0 719.3,547.5 722.3,557.3 725.2,560.2 728.2,548.4 731.2,548.4 734.1,557.3 737.1,575.1 740.1,581.0 743.1,578.1 746.0,593.0 749.0,601.9 752.0,607.8 755.6,611.0 873.6,611.0 873.6,611.0 757.6,611.0 687.6,611.0 681.9,609.0 675.6,607.4 672.4,602.7 669.2,594.8 666.1,590.0 662.9,594.8 659.8,590.0 656.6,588.5 653.4,574.3 651.9,552.1 650.3,544.2 648.7,547.4 645.6,590.0 642.4,594.8 636.1,596.4 631.3,594.8 625.0,601.1 618.7,605.8 610.8,609.0 605.6,611.0 478.6,611.0" fill="#bfbfbf" stroke="#94d3e8" stroke-width="3.4" stroke-linejoin="round"/>
<path d="M478.6,610.8 C495.9,610.7 559.9,611.0 577.6,610.5 C579.9,610.0 578.1,608.9 579.9,608.1 C581.7,607.3 585.8,611.4 588.1,606.0 C590.4,600.6 591.8,585.6 593.2,577.4 C594.6,569.2 595.0,559.7 596.3,559.0 C597.6,558.3 599.1,575.1 600.4,573.3 C601.7,571.5 602.4,550.9 603.5,548.7 C604.6,546.5 605.6,562.4 606.5,561.0 C607.4,559.6 607.7,545.5 608.6,540.5 C609.5,535.5 610.6,539.9 611.7,532.4 C612.8,524.9 613.8,503.0 614.7,497.6 C615.6,492.2 615.7,503.4 616.8,501.6 C617.9,499.8 619.5,492.7 620.9,487.3 C622.3,481.9 623.6,477.3 625.0,470.9 C626.4,464.5 627.7,456.0 629.1,450.5 C630.5,445.0 631.8,439.9 633.2,439.2 C634.6,438.5 636.1,445.5 637.3,446.4 C638.5,447.3 639.3,448.8 640.3,444.3 C641.3,439.8 642.2,425.4 643.2,420.8 C644.2,416.2 644.9,422.0 646.1,418.0 C647.3,414.0 648.6,404.6 650.3,398.2 C652.0,391.8 654.4,381.3 655.9,381.3 C657.4,381.3 657.8,396.2 658.8,398.2 C659.8,400.2 660.1,394.6 661.6,392.6 C663.1,390.6 665.5,386.4 667.2,386.9 C668.9,387.4 670.0,396.9 671.5,395.4 C673.0,393.9 674.5,382.2 675.7,378.5 C676.9,374.8 677.0,374.2 678.5,374.2 C680.0,374.2 682.5,376.8 684.2,378.5 C685.9,380.2 686.9,379.7 688.4,384.1 C689.9,388.5 691.3,399.9 692.6,403.9 C693.9,407.9 694.8,404.2 695.9,406.7 C697.0,409.2 697.6,412.2 698.7,418.0 C699.8,423.8 700.8,433.5 702.0,440.0 C703.2,446.5 704.2,452.4 705.6,455.0 C707.0,457.6 708.2,453.2 710.0,454.6 C711.8,456.0 713.6,463.1 715.6,463.1 C717.6,463.1 719.6,454.6 721.3,454.6 C723.0,454.6 723.9,460.9 725.2,463.2 C726.5,465.5 727.3,466.3 728.6,468.0 C729.9,469.7 731.1,474.4 732.9,472.9 C734.7,471.4 737.0,459.6 738.7,459.3 C740.4,459.0 741.6,470.0 742.6,471.0 C743.6,472.0 743.2,461.1 744.5,465.2 C745.8,469.3 748.4,490.5 750.3,494.2 C752.2,497.9 753.5,484.4 755.2,486.4 C756.9,488.4 758.8,503.8 760.0,505.8 C761.2,507.8 761.0,492.6 762.0,498.0 C763.0,503.4 764.1,527.9 765.8,536.7 C767.5,545.5 769.6,542.2 771.6,548.3 C773.6,554.4 776.0,570.2 777.4,571.6 C778.8,573.0 778.4,554.1 779.4,556.1 C780.4,558.1 781.9,574.1 783.2,583.2 C784.5,592.3 785.8,603.5 787.1,608.3 C788.4,613.1 789.4,610.5 790.6,610.5 C791.8,610.5 792.9,608.2 793.9,608.3 C795.0,608.4 793.9,610.4 796.6,610.8 C810.5,611.2 860.1,610.8 873.6,610.8" fill="none" stroke="#808080" stroke-width="2.90" stroke-linejoin="round" stroke-linecap="round" />
<path d="M478.6,610.8 C494.2,610.7 550.3,610.7 567.6,610.5 C577.6,610.3 573.1,610.3 577.6,609.8 C582.1,609.3 588.7,608.9 593.4,607.4 C598.1,605.9 600.9,603.9 604.5,601.1 C608.1,598.3 610.9,595.5 613.9,591.6 C616.9,587.7 619.3,583.1 621.8,579.0 C624.3,574.9 626.3,572.6 628.2,567.9 C630.1,563.2 631.5,556.2 632.9,552.1 C634.3,548.0 634.7,546.1 636.1,544.2 C637.5,542.3 639.4,543.3 640.8,541.1 C642.2,538.9 642.9,534.9 644.0,531.6 C645.1,528.3 646.0,523.5 647.1,522.1 C648.2,520.7 649.5,522.9 650.3,523.7 C651.1,524.5 651.1,527.0 651.9,526.9 C652.7,526.8 653.9,523.0 655.0,522.9 C656.1,522.8 656.8,526.2 658.2,526.1 C659.6,526.0 661.1,523.3 662.9,522.1 C664.7,520.9 666.8,519.1 668.5,519.0 C670.2,518.9 670.9,520.3 672.4,521.3 C673.9,522.3 675.4,524.1 677.1,524.5 C678.8,524.9 679.9,522.9 681.9,523.7 C683.9,524.5 686.2,525.7 688.4,529.0 C690.6,532.3 692.6,539.1 694.2,542.5 C695.8,545.9 695.4,544.6 697.6,548.4 C699.8,552.2 703.9,560.6 706.5,564.2 C709.1,567.8 710.2,567.3 712.5,569.2 C714.8,571.1 717.3,573.0 719.9,575.1 C722.5,577.2 724.4,578.9 727.3,581.0 C730.2,583.1 733.8,584.7 736.2,587.0 C738.6,589.3 738.9,592.3 741.1,594.4 C743.3,596.5 745.8,597.3 749.0,598.9 C752.2,600.5 756.3,601.9 759.4,603.3 C762.6,604.7 763.5,605.9 767.0,607.0 C770.5,608.1 775.9,608.9 779.4,609.5 C782.9,610.1 779.4,610.3 787.1,610.5 C803.6,610.7 858.5,610.7 873.6,610.8" fill="none" stroke="#000" stroke-width="3.00" stroke-linejoin="round" stroke-linecap="round" />
<path d="M478.6,610.8 C500.4,610.8 580.9,611.0 603.0,610.8 C605.1,610.6 603.0,612.0 605.1,609.8 C607.4,607.6 613.4,598.5 616.4,598.5 C619.4,598.5 617.9,608.3 622.0,610.0 C626.1,611.7 635.5,609.8 640.0,608.0 C644.5,606.2 645.7,603.1 648.0,600.0 C650.3,596.9 651.5,594.7 653.1,590.0 C654.7,585.3 655.8,574.1 657.3,573.1 C658.8,572.1 659.9,580.9 661.6,584.4 C663.3,587.9 665.5,592.9 667.2,592.9 C668.9,592.9 670.0,589.8 671.5,584.4 C673.0,579.0 674.5,571.7 675.7,561.8 C676.9,551.9 677.5,536.9 678.5,528.0 C679.5,519.1 680.3,511.0 681.3,511.0 C682.3,511.0 683.0,518.1 684.2,528.0 C685.4,537.9 686.9,561.6 688.4,567.5 C689.9,573.4 691.1,557.9 692.6,561.8 C694.1,565.7 695.4,586.0 696.9,590.0 C698.4,594.0 699.6,591.3 701.1,584.4 C702.6,577.5 703.8,563.3 705.3,550.5 C706.8,537.7 708.0,521.9 709.5,511.0 C711.0,500.1 712.3,494.4 713.8,488.5 C715.3,482.6 716.5,474.2 718.0,477.2 C719.5,480.2 720.7,501.9 722.2,505.4 C723.7,508.9 725.3,503.9 726.5,497.0 C727.7,490.1 728.1,470.3 729.3,465.9 C730.5,461.5 732.0,466.7 733.5,471.6 C735.0,476.5 736.3,487.2 737.8,494.1 C739.3,501.0 740.5,510.5 742.0,511.0 C743.5,511.5 744.5,498.0 746.2,497.0 C747.9,496.0 750.2,500.0 751.9,505.4 C753.6,510.8 754.6,522.1 756.1,528.0 C757.6,533.9 758.8,538.3 760.3,539.3 C761.8,540.3 763.1,533.1 764.6,533.6 C766.1,534.1 767.3,536.2 768.8,542.1 C770.3,548.0 771.5,559.1 773.0,567.5 C774.5,575.9 776.1,582.4 777.3,590.0 C778.5,597.6 777.3,607.2 780.1,610.8 C797.0,614.4 857.6,610.8 874.0,610.8" fill="none" stroke="#00c800" stroke-width="2.90" stroke-linejoin="round" stroke-linecap="round" />
<path d="M478.6,610.8 C500.9,610.8 583.4,611.0 606.0,610.8 C608.0,610.6 606.9,614.4 608.0,609.8 C609.1,605.2 610.7,586.9 612.2,584.4 C613.7,581.9 614.9,591.7 616.4,595.7 C617.9,599.7 619.0,604.5 620.7,607.0 C622.4,609.5 624.6,614.2 626.3,609.8 C628.0,605.4 629.3,594.4 630.5,581.6 C631.7,568.8 632.2,549.7 633.4,536.4 C634.6,523.1 636.1,512.8 637.6,505.4 C639.1,498.0 640.3,499.0 641.8,494.1 C643.3,489.2 644.6,484.1 646.1,477.2 C647.6,470.3 648.8,456.1 650.3,454.6 C651.8,453.1 653.3,460.3 654.5,468.7 C655.7,477.1 656.3,492.2 657.3,502.6 C658.3,513.0 659.2,521.1 660.2,528.0 C661.2,534.9 661.8,542.1 663.0,542.1 C664.2,542.1 665.7,529.5 667.2,528.0 C668.7,526.5 670.0,529.7 671.5,533.6 C673.0,537.5 674.2,550.5 675.7,550.5 C677.2,550.5 678.4,544.5 679.9,533.6 C681.4,522.8 682.7,500.8 684.2,488.5 C685.7,476.2 687.2,468.0 688.4,463.1 C689.6,458.2 690.0,451.9 691.2,460.3 C692.4,468.7 694.2,493.2 695.4,511.0 C696.6,528.8 697.3,547.0 698.3,561.8 C699.3,576.6 700.1,594.7 701.1,595.7 C702.1,596.7 702.9,582.3 703.9,567.5 C704.9,552.7 705.5,526.8 706.7,511.0 C707.9,495.2 709.5,485.1 711.0,477.2 C712.5,469.3 713.7,464.9 715.2,465.9 C716.7,466.9 717.9,480.8 719.4,482.8 C720.9,484.8 722.2,479.2 723.7,477.2 C725.2,475.2 726.4,469.6 727.9,471.6 C729.4,473.6 730.6,485.1 732.1,488.5 C733.6,491.9 734.9,488.8 736.4,491.3 C737.9,493.8 739.1,500.1 740.6,502.6 C742.1,505.1 743.3,502.4 744.8,505.4 C746.3,508.4 747.6,517.0 749.1,519.5 C750.6,522.0 751.8,517.0 753.3,519.5 C754.8,522.0 756.0,530.1 757.5,533.6 C759.0,537.1 760.2,533.4 761.7,539.3 C763.2,545.2 764.5,559.6 766.0,567.5 C767.5,575.4 768.7,584.4 770.2,584.4 C771.7,584.4 773.2,572.4 774.4,567.5 C775.6,562.6 776.3,556.2 777.3,556.2 C778.3,556.2 779.1,562.6 780.1,567.5 C781.1,572.4 781.9,576.8 782.9,584.4 C783.9,592.0 782.9,606.2 785.7,610.8 C801.6,615.4 858.5,610.8 874.0,610.8" fill="none" stroke="#008080" stroke-width="2.90" stroke-linejoin="round" stroke-linecap="round" />
<path d="M478.6,610.8 C497.4,610.8 566.8,611.0 586.0,610.8 C588.2,610.6 587.1,615.4 588.2,609.8 C589.3,604.2 590.9,587.8 592.4,578.7 C593.9,569.6 595.2,559.6 596.7,557.6 C598.2,555.6 599.7,562.8 600.9,567.5 C602.1,572.2 602.5,587.4 603.7,584.4 C604.9,581.4 606.5,559.4 608.0,550.5 C609.5,541.6 610.7,535.1 612.2,533.6 C613.7,532.1 614.9,541.6 616.4,542.1 C617.9,542.6 619.2,536.9 620.7,536.4 C622.2,535.9 623.4,545.7 624.9,539.3 C626.4,532.9 627.6,502.8 629.1,499.8 C630.6,496.8 632.2,519.3 633.4,522.3 C634.6,525.3 634.7,523.6 636.2,516.7 C637.7,509.8 640.1,491.7 641.8,482.8 C643.5,473.9 644.6,472.3 646.1,465.9 C647.6,459.5 649.1,448.7 650.3,446.2 C651.5,443.7 651.9,448.8 653.1,451.8 C654.3,454.8 656.1,458.7 657.3,463.1 C658.5,467.5 659.0,473.8 660.2,477.2 C661.4,480.6 663.2,482.8 664.4,482.8 C665.6,482.8 666.2,476.7 667.2,477.2 C668.2,477.7 668.5,485.7 670.0,485.7 C671.5,485.7 673.7,476.2 675.7,477.2 C677.7,478.2 679.6,497.2 681.3,491.3 C683.0,485.4 684.1,449.7 685.6,443.3 C687.1,436.9 688.3,454.6 689.8,454.6 C691.3,454.6 692.5,441.8 694.0,443.3 C695.5,444.8 696.8,453.2 698.3,463.1 C699.8,473.0 701.3,485.0 702.5,499.8 C703.7,514.6 704.3,543.8 705.3,547.7 C706.3,551.6 706.9,537.6 708.1,522.3 C709.3,507.0 710.9,472.1 712.4,460.3 C713.9,448.5 715.1,457.6 716.6,454.6 C718.1,451.6 719.3,441.3 720.8,443.3 C722.3,445.3 723.6,458.0 725.1,465.9 C726.6,473.8 727.8,487.0 729.3,488.5 C730.8,490.0 732.0,479.3 733.5,474.4 C735.0,469.5 736.1,461.8 737.8,460.3 C739.5,458.8 741.7,461.5 743.4,465.9 C745.1,470.3 746.1,480.8 747.6,485.7 C749.1,490.6 750.4,493.6 751.9,494.1 C753.4,494.6 754.9,486.5 756.1,488.5 C757.3,490.5 757.9,503.4 758.9,505.4 C759.9,507.4 760.7,493.9 761.7,499.8 C762.7,505.7 763.4,524.5 764.6,539.3 C765.8,554.1 767.6,571.9 768.8,584.4 C770.0,596.9 768.8,606.2 771.6,610.8 C790.0,615.4 856.1,610.8 874.0,610.8" fill="none" stroke="#0000ff" stroke-width="2.90" stroke-linejoin="round" stroke-linecap="round" />
<path d="M478.6,610.8 C499.8,610.8 578.4,611.0 600.0,610.8 C602.3,610.6 600.9,612.9 602.3,609.8 C603.7,606.7 606.3,602.8 608.0,592.9 C609.7,583.0 610.7,562.3 612.2,553.4 C613.7,544.5 614.9,542.1 616.4,542.1 C617.9,542.1 619.2,548.0 620.7,553.4 C622.2,558.8 623.4,575.6 624.9,573.1 C626.4,570.6 627.9,551.6 629.1,539.3 C630.3,527.0 630.8,512.5 632.0,502.6 C633.2,492.7 634.7,489.2 636.2,482.8 C637.7,476.4 638.9,470.8 640.4,465.9 C641.9,461.0 643.2,452.6 644.7,454.6 C646.2,456.6 647.4,469.3 648.9,477.2 C650.4,485.1 651.6,498.3 653.1,499.8 C654.6,501.3 655.8,492.6 657.3,485.7 C658.8,478.8 660.1,467.7 661.6,460.3 C663.1,452.9 664.3,442.8 665.8,443.3 C667.3,443.8 668.5,462.6 670.0,463.1 C671.5,463.6 673.1,451.6 674.3,446.2 C675.5,440.8 676.1,438.3 677.1,432.1 C678.1,425.9 678.7,411.4 679.9,410.9 C681.1,410.4 682.7,426.5 684.2,429.2 C685.7,431.9 686.9,424.4 688.4,426.4 C689.9,428.4 690.9,441.5 692.6,440.5 C694.3,439.5 696.6,421.3 698.3,420.8 C700.0,420.3 701.0,430.8 702.5,437.7 C704.0,444.6 705.2,460.3 706.7,460.3 C708.2,460.3 709.7,443.6 711.0,437.7 C712.3,431.8 713.1,428.3 714.3,426.3 C715.5,424.3 716.6,422.6 717.9,426.3 C719.2,430.0 720.5,436.4 721.5,447.7 C722.5,459.0 722.9,482.8 723.9,490.7 C724.9,498.6 726.2,487.3 727.4,493.1 C728.6,498.9 729.7,520.8 731.0,524.1 C732.3,527.4 733.3,516.8 734.6,512.2 C735.9,507.6 737.2,494.1 738.2,497.9 C739.2,501.7 739.8,522.0 740.6,533.7 C741.4,545.4 742.2,559.7 743.0,564.7 C743.8,569.7 744.3,559.4 745.3,562.3 C746.3,565.2 747.9,582.7 748.9,581.4 C749.9,580.1 750.5,560.1 751.3,555.1 C752.1,550.1 752.7,549.8 753.7,552.7 C754.8,555.6 756.2,562.6 757.3,571.8 C758.3,581.0 758.9,598.5 759.7,605.3 C760.5,612.1 759.7,609.8 762.1,610.8 C782.1,611.8 854.4,610.8 874.0,610.8" fill="none" stroke="#8b0080" stroke-width="2.90" stroke-linejoin="round" stroke-linecap="round" />
</g>
<g clip-path="url(#c20)">
<polygon points="51.0,822.0 64.5,823.1 78.0,823.1 91.5,822.0 105.0,819.7 118.5,816.4 129.7,813.0 141.0,808.5 152.2,804.0 163.5,797.2 170.0,788.5 181.2,781.7 192.5,775.0 203.7,768.2 215.0,759.2 226.2,748.0 237.5,739.0 248.7,727.7 260.0,716.5 271.2,709.7 282.4,700.7 293.7,696.2 300.0,694.7 310.1,690.6 320.3,688.6 330.4,686.6 340.5,684.5 350.6,682.5 360.8,688.6 370.9,692.6 381.0,698.7 391.1,706.8 401.3,714.9 411.4,725.0 421.5,733.1 431.6,741.2 446.0,753.4 446.0,767.6 431.6,757.4 421.5,749.3 411.4,741.2 401.3,733.1 391.1,729.1 381.0,725.0 370.9,721.0 360.8,716.9 350.6,712.9 340.5,714.9 330.4,719.0 320.3,725.0 310.1,727.1 300.0,733.1 293.7,739.0 282.4,745.7 271.2,752.5 260.0,759.2 248.7,766.0 237.5,770.5 226.2,775.0 215.0,781.7 203.7,788.5 192.5,793.0 181.2,797.5 170.0,808.7 163.5,810.7 152.2,815.2 141.0,817.5 129.7,822.0 118.5,826.5 105.0,831.0 91.5,832.1 78.0,834.4 64.5,833.2 51.0,831.0" fill="#bfbfbf" stroke="#94d3e8" stroke-width="3.4" stroke-linejoin="round"/>
<path d="M51.0,813.0 C52.6,813.4 56.9,815.2 60.0,815.2 C63.1,815.2 65.8,813.0 69.0,813.0 C72.2,813.0 74.8,815.2 78.0,815.2 C81.2,815.2 83.8,813.8 87.0,813.0 C90.2,812.2 92.8,812.3 96.0,810.7 C99.2,809.1 102.6,804.8 105.0,804.0 C107.4,803.2 107.9,805.4 109.5,806.2 C111.1,807.0 112.0,808.5 114.0,808.5 C116.0,808.5 118.3,807.8 120.7,806.2 C123.1,804.6 125.1,801.5 127.5,799.5 C129.9,797.5 131.8,795.8 134.2,795.0 C136.6,794.2 139.0,795.8 141.0,795.0 C143.0,794.2 143.9,791.7 145.5,790.5 C147.1,789.3 148.4,789.8 150.0,788.2 C151.6,786.6 152.5,783.5 154.5,781.5 C156.5,779.5 159.2,779.0 161.2,777.0 C163.2,775.0 164.2,771.3 165.7,770.2 C167.2,769.1 168.5,772.8 170.0,770.5 C171.5,768.2 172.5,760.1 174.5,757.0 C176.5,753.9 178.8,754.5 181.2,752.5 C183.6,750.5 185.6,748.5 188.0,745.7 C190.4,742.9 192.7,739.4 194.7,736.7 C196.7,734.0 197.2,733.5 199.2,730.0 C201.2,726.5 204.2,718.1 206.0,716.5 C207.8,714.9 208.2,719.4 209.4,721.0 C210.6,722.6 211.3,725.9 212.7,725.5 C214.1,725.1 215.6,720.7 217.2,718.7 C218.8,716.7 220.3,713.4 221.7,714.2 C223.1,715.0 223.5,726.4 225.1,723.2 C226.7,720.1 228.9,702.9 230.7,696.2 C232.5,689.5 233.2,685.8 235.2,685.0 C237.2,684.2 239.6,692.5 242.0,691.7 C244.4,690.9 246.5,683.6 248.7,680.5 C250.9,677.4 252.3,673.9 254.3,673.7 C256.3,673.5 258.2,678.2 260.0,679.4 C261.8,680.6 262.8,681.9 264.4,680.5 C266.0,679.1 267.5,674.6 268.9,671.5 C270.3,668.4 270.7,664.5 272.3,662.5 C273.9,660.5 276.1,661.4 277.9,660.2 C279.7,659.0 280.8,656.1 282.4,655.7 C284.0,655.3 285.5,656.8 286.9,658.0 C288.3,659.2 289.1,662.5 290.3,662.5 C291.5,662.5 292.3,660.4 293.7,658.0 C295.1,655.6 296.6,649.8 298.2,649.0 C299.8,648.2 301.7,653.7 302.7,653.5 C303.7,653.3 303.1,646.2 304.0,648.1 C304.9,650.0 306.7,660.4 308.1,664.3 C309.5,668.2 310.8,669.7 312.2,670.4 C313.6,671.1 314.8,670.8 316.2,668.3 C317.6,665.8 318.9,658.7 320.3,656.2 C321.7,653.7 322.5,656.3 324.3,654.2 C326.1,652.1 328.6,645.4 330.4,644.0 C332.2,642.6 333.0,646.5 334.4,646.1 C335.8,645.8 337.1,641.0 338.5,642.0 C339.9,643.0 340.7,648.9 342.5,652.1 C344.3,655.3 346.5,659.8 348.6,660.2 C350.7,660.6 352.6,653.8 354.7,654.2 C356.8,654.6 359.0,661.2 360.8,662.3 C362.6,663.3 363.4,659.5 364.8,660.2 C366.2,660.9 367.1,665.2 368.9,666.3 C370.7,667.4 372.8,664.5 374.9,666.3 C377.0,668.1 378.9,675.7 381.0,676.4 C383.1,677.1 385.0,669.7 387.1,670.4 C389.2,671.1 391.1,676.6 393.2,680.5 C395.3,684.4 397.1,689.4 399.2,692.6 C401.3,695.8 402.8,696.6 405.3,698.7 C407.8,700.8 410.6,702.3 413.4,704.8 C416.2,707.3 418.7,710.4 421.5,712.9 C424.3,715.4 426.8,716.9 429.6,719.0 C432.4,721.1 434.8,723.2 437.7,725.0 C440.6,726.8 444.5,728.4 446.0,729.1" fill="none" stroke="#808080" stroke-width="2.90" stroke-linejoin="round" stroke-linecap="round" />
<path d="M51.0,840.0 C52.6,839.8 56.9,838.9 60.0,838.9 C63.1,838.9 66.6,839.4 69.0,840.0 C71.4,840.6 71.9,841.4 73.5,842.2 C75.1,843.0 76.0,844.9 78.0,844.5 C80.0,844.1 82.3,840.4 84.7,840.0 C87.1,839.6 89.1,842.2 91.5,842.2 C93.9,842.2 95.8,840.0 98.2,840.0 C100.6,840.0 102.6,841.8 105.0,842.2 C107.4,842.6 109.3,842.6 111.7,842.2 C114.1,841.8 115.7,840.0 118.5,840.0 C121.3,840.0 125.1,841.4 127.5,842.2 C129.9,843.0 130.4,845.3 132.0,844.5 C133.6,843.7 134.9,839.7 136.5,837.7 C138.1,835.7 139.0,834.0 141.0,833.2 C143.0,832.4 145.3,833.2 147.7,833.2 C150.1,833.2 152.1,833.6 154.5,833.2 C156.9,832.8 159.6,832.2 161.2,831.0 C162.8,829.8 162.0,827.6 163.5,826.5 C165.0,825.4 168.1,825.6 170.0,824.5 C171.9,823.4 172.5,822.0 174.5,820.0 C176.5,818.0 178.8,815.6 181.2,813.2 C183.6,810.8 185.6,808.1 188.0,806.5 C190.4,804.9 192.3,805.0 194.7,804.2 C197.1,803.4 199.1,803.2 201.5,802.0 C203.9,800.8 205.8,798.7 208.2,797.5 C210.6,796.3 212.6,796.0 215.0,795.2 C217.4,794.4 219.3,793.0 221.7,793.0 C224.1,793.0 226.1,794.4 228.5,795.2 C230.9,796.0 232.8,797.9 235.2,797.5 C237.6,797.1 239.6,793.8 242.0,793.0 C244.4,792.2 246.3,793.8 248.7,793.0 C251.1,792.2 253.1,790.1 255.5,788.5 C257.9,786.9 259.9,787.1 262.2,784.0 C264.5,780.9 266.5,772.5 268.9,770.5 C271.3,768.5 273.3,771.5 275.7,772.7 C278.1,773.9 280.0,777.6 282.4,777.2 C284.8,776.8 286.8,770.9 289.2,770.5 C291.6,770.1 293.5,773.4 295.9,775.0 C298.3,776.6 300.6,779.7 302.7,779.5 C304.8,779.3 306.1,775.0 308.1,773.6 C310.1,772.2 312.1,770.9 314.2,771.6 C316.3,772.3 318.2,775.9 320.3,777.7 C322.4,779.5 324.2,780.6 326.3,781.7 C328.4,782.8 330.3,783.8 332.4,783.8 C334.5,783.8 336.4,782.1 338.5,781.7 C340.6,781.3 342.5,782.4 344.6,781.7 C346.7,781.0 348.5,779.1 350.6,777.7 C352.7,776.3 354.6,773.2 356.7,773.6 C358.8,774.0 360.7,779.0 362.8,779.7 C364.9,780.4 366.8,777.7 368.9,777.7 C371.0,777.7 373.1,779.0 374.9,779.7 C376.7,780.4 377.2,785.2 379.0,781.7 C380.8,778.2 383.3,762.7 385.1,759.5 C386.9,756.3 387.3,763.9 389.1,763.5 C390.9,763.1 393.1,758.1 395.2,757.4 C397.3,756.7 398.8,758.4 401.3,759.5 C403.8,760.6 406.6,762.1 409.4,763.5 C412.2,764.9 414.7,765.8 417.5,767.6 C420.3,769.4 422.8,771.5 425.6,773.6 C428.4,775.7 430.9,777.9 433.7,779.7 C436.5,781.5 439.6,782.9 441.8,783.8 C444.0,784.7 445.3,784.6 446.0,784.8" fill="none" stroke="#808080" stroke-width="2.90" stroke-linejoin="round" stroke-linecap="round" />
<path d="M51.0,827.6 C53.4,827.8 59.8,828.3 64.5,828.7 C69.2,829.1 73.3,830.1 78.0,829.9 C82.7,829.7 86.8,828.2 91.5,827.6 C96.2,827.0 100.7,827.5 105.0,826.5 C109.3,825.5 112.3,823.6 116.2,822.0 C120.1,820.4 123.6,819.1 127.5,817.5 C131.4,815.9 134.8,814.6 138.7,813.0 C142.6,811.4 145.7,810.1 150.0,808.5 C154.3,806.9 159.6,806.0 163.5,804.0 C167.4,802.0 169.4,799.9 172.5,797.2 C175.6,794.5 177.7,790.8 181.2,788.5 C184.7,786.2 188.6,786.0 192.5,784.0 C196.4,782.0 199.8,779.6 203.7,777.2 C207.6,774.8 211.1,773.2 215.0,770.5 C218.9,767.8 222.3,764.3 226.2,761.5 C230.1,758.7 233.6,757.1 237.5,754.7 C241.4,752.3 244.8,751.1 248.7,748.0 C252.6,744.9 256.1,740.3 260.0,736.7 C263.9,733.1 267.3,730.1 271.2,727.7 C275.1,725.3 278.5,725.2 282.4,723.2 C286.3,721.2 290.6,718.0 293.7,716.5 C296.8,715.0 297.1,715.5 300.0,714.9 C302.9,714.3 306.5,713.6 310.1,712.9 C313.7,712.2 316.7,712.0 320.3,710.9 C323.9,709.8 326.9,707.9 330.4,706.8 C333.9,705.7 337.0,705.5 340.5,704.8 C344.0,704.1 347.0,702.4 350.6,702.8 C354.2,703.1 357.2,705.9 360.8,706.8 C364.4,707.7 368.1,707.4 370.9,707.8 C373.7,708.1 374.5,707.2 377.0,708.8 C379.5,710.4 382.3,714.8 385.1,716.9 C387.9,719.0 390.4,719.6 393.2,721.0 C396.0,722.4 398.5,722.9 401.3,725.0 C404.1,727.1 406.6,730.6 409.4,733.1 C412.2,735.6 414.7,737.1 417.5,739.2 C420.3,741.3 422.8,742.8 425.6,745.3 C428.4,747.8 430.1,750.2 433.7,753.4 C437.3,756.6 443.8,761.7 446.0,763.5" fill="none" stroke="#000" stroke-width="3.00" stroke-linejoin="round" stroke-linecap="round" />
<path d="M51.0,818.6 C52.6,819.2 56.9,821.0 60.0,822.0 C63.1,823.0 65.8,824.2 69.0,824.2 C72.2,824.2 75.3,822.0 78.0,822.0 C80.7,822.0 82.3,823.0 84.7,824.2 C87.1,825.4 89.1,828.3 91.5,828.7 C93.9,829.1 95.8,827.7 98.2,826.5 C100.6,825.3 102.6,822.4 105.0,822.0 C107.4,821.6 109.3,824.6 111.7,824.2 C114.1,823.8 116.1,821.3 118.5,819.7 C120.9,818.1 122.8,815.6 125.2,815.2 C127.6,814.8 130.0,816.3 132.0,817.5 C134.0,818.7 134.9,822.4 136.5,822.0 C138.1,821.6 139.0,816.0 141.0,815.2 C143.0,814.4 145.3,817.9 147.7,817.5 C150.1,817.1 152.1,815.4 154.5,813.0 C156.9,810.6 158.8,806.4 161.2,804.0 C163.6,801.6 166.1,801.1 168.0,799.5 C169.9,797.9 170.5,793.0 172.0,795.0 C173.5,797.0 175.1,807.0 176.7,811.0 C178.3,815.0 179.6,817.3 181.2,817.7 C182.8,818.1 183.7,815.2 185.7,813.2 C187.7,811.2 190.1,808.1 192.5,806.5 C194.9,804.9 196.8,804.2 199.2,804.2 C201.6,804.2 204.0,806.9 206.0,806.5 C208.0,806.1 208.5,803.6 210.5,802.0 C212.5,800.4 214.8,798.7 217.2,797.5 C219.6,796.3 222.0,795.2 224.0,795.2 C226.0,795.2 226.5,796.7 228.5,797.5 C230.5,798.3 232.8,799.7 235.2,799.7 C237.6,799.7 239.6,798.7 242.0,797.5 C244.4,796.3 246.3,796.1 248.7,793.0 C251.1,789.9 253.5,785.0 255.5,779.5 C257.5,774.0 258.4,767.0 260.0,761.5 C261.6,756.0 262.8,754.7 264.4,748.0 C266.0,741.3 267.3,730.7 268.9,723.2 C270.5,715.7 271.8,710.3 273.4,705.2 C275.0,700.1 276.3,693.6 277.9,694.0 C279.5,694.4 280.8,706.3 282.4,707.5 C284.0,708.7 285.3,703.1 286.9,700.7 C288.5,698.3 289.8,692.0 291.4,694.0 C293.0,696.0 294.4,707.6 295.9,712.0 C297.4,716.4 298.2,721.0 300.0,719.0 C301.8,717.0 304.0,706.0 306.1,700.7 C308.2,695.4 310.6,691.6 312.2,688.6 C313.8,685.6 313.8,683.1 315.2,683.5 C316.6,683.9 318.4,690.1 320.3,690.6 C322.2,691.1 324.2,686.6 326.3,686.6 C328.4,686.6 330.3,689.2 332.4,690.6 C334.5,692.0 336.4,694.0 338.5,694.7 C340.6,695.4 342.1,694.4 344.6,694.7 C347.1,695.1 350.2,696.7 352.7,696.7 C355.2,696.7 356.2,694.0 358.7,694.7 C361.2,695.4 364.0,699.3 366.8,700.7 C369.6,702.1 372.4,702.1 374.9,702.8 C377.4,703.5 378.9,703.8 381.0,704.8 C383.1,705.8 385.0,706.7 387.1,708.8 C389.2,710.9 391.1,714.8 393.2,716.9 C395.3,719.0 397.1,719.2 399.2,721.0 C401.3,722.8 402.8,723.9 405.3,727.1 C407.8,730.3 410.6,736.4 413.4,739.2 C416.2,742.0 418.7,742.2 421.5,743.3 C424.3,744.4 426.8,744.2 429.6,745.3 C432.4,746.3 434.8,747.2 437.7,749.3 C440.6,751.4 444.5,756.0 446.0,757.4" fill="none" stroke="#c47a00" stroke-width="2.90" stroke-linejoin="round" stroke-linecap="round" />
<path d="M51.0,828.0 C51.7,828.5 53.9,829.9 55.1,830.7 C56.3,831.5 56.6,832.3 57.8,832.8 C59.0,833.3 60.6,833.2 61.8,833.4 C63.0,833.6 63.6,833.7 64.5,834.1 C65.4,834.5 66.0,835.3 67.2,835.5 C68.4,835.7 69.9,835.5 71.3,835.5 C72.7,835.5 74.2,835.6 75.4,835.5 C76.6,835.4 77.3,835.4 78.1,834.8 C78.9,834.2 79.4,833.2 80.1,832.1 C80.8,831.0 81.3,829.5 82.1,828.7 C82.9,827.9 83.9,827.6 84.9,827.3 C85.9,826.9 86.7,827.3 87.6,826.7 C88.5,826.1 89.4,824.5 90.3,824.0 C91.2,823.5 92.1,823.6 93.0,824.0 C93.9,824.4 94.8,826.1 95.7,826.0 C96.6,825.9 97.5,824.4 98.4,823.3 C99.3,822.2 100.3,821.3 101.1,819.9 C101.9,818.5 102.4,816.4 103.1,815.2 C103.8,814.0 104.1,813.0 105.2,813.1 C106.3,813.2 108.2,814.9 109.2,815.8 C110.2,816.7 110.2,817.0 111.0,818.5 C111.8,820.0 112.7,823.6 114.0,824.2 C115.3,824.8 116.9,823.2 118.5,822.0 C120.1,820.8 121.2,818.7 123.0,817.5 C124.8,816.3 126.6,815.2 128.6,815.2 C130.6,815.2 132.0,818.3 134.2,817.5 C136.4,816.7 138.6,811.1 141.0,810.7 C143.4,810.3 145.3,814.4 147.7,815.2 C150.1,816.0 152.5,814.8 154.5,815.2 C156.5,815.6 157.4,815.9 159.0,817.5 C160.6,819.1 161.9,825.8 163.5,824.2 C165.1,822.6 166.4,813.6 168.0,808.5 C169.6,803.4 171.0,797.7 172.5,795.0 C174.0,792.3 174.8,793.8 176.7,793.0 C178.6,792.2 181.1,791.5 183.5,790.7 C185.9,789.9 187.8,789.3 190.2,788.5 C192.6,787.7 194.6,787.4 197.0,786.2 C199.4,785.0 201.3,781.7 203.7,781.7 C206.1,781.7 208.1,785.8 210.5,786.2 C212.9,786.6 214.8,783.6 217.2,784.0 C219.6,784.4 222.0,785.4 224.0,788.5 C226.0,791.6 226.9,801.2 228.5,802.0 C230.1,802.8 231.4,793.8 233.0,793.0 C234.6,792.2 235.9,795.9 237.5,797.5 C239.1,799.1 240.4,802.0 242.0,802.0 C243.6,802.0 244.9,799.9 246.5,797.5 C248.1,795.1 249.4,791.6 251.0,788.5 C252.6,785.4 253.9,783.4 255.5,779.5 C257.1,775.6 258.4,770.3 260.0,766.0 C261.6,761.7 262.4,757.1 264.4,754.7 C266.4,752.3 269.2,750.9 271.2,752.5 C273.2,754.1 274.1,763.7 275.7,763.7 C277.3,763.7 278.6,753.3 280.2,752.5 C281.8,751.7 282.7,757.2 284.7,759.2 C286.7,761.2 289.0,763.3 291.4,763.7 C293.8,764.1 296.0,761.9 298.2,761.5 C300.4,761.1 301.9,762.9 304.0,761.5 C306.1,760.1 308.3,756.2 310.1,753.4 C311.9,750.6 312.4,745.3 314.2,745.3 C316.0,745.3 318.5,751.3 320.3,753.4 C322.1,755.5 322.9,757.0 324.3,757.4 C325.7,757.8 327.0,755.4 328.4,755.4 C329.8,755.4 331.0,761.3 332.4,757.4 C333.8,753.5 335.1,739.8 336.5,733.1 C337.9,726.4 339.1,720.4 340.5,719.0 C341.9,717.6 343.2,721.1 344.6,725.0 C346.0,728.9 346.8,739.4 348.6,741.2 C350.4,743.0 352.6,736.6 354.7,735.2 C356.8,733.8 358.7,733.1 360.8,733.1 C362.9,733.1 365.0,735.9 366.8,735.2 C368.6,734.5 369.1,729.1 370.9,729.1 C372.7,729.1 374.9,734.5 377.0,735.2 C379.1,735.9 381.2,734.9 383.0,733.1 C384.8,731.3 385.3,725.7 387.1,725.0 C388.9,724.3 391.1,726.6 393.2,729.1 C395.3,731.6 397.1,737.4 399.2,739.2 C401.3,741.0 403.2,738.1 405.3,739.2 C407.4,740.3 409.3,742.8 411.4,745.3 C413.5,747.8 415.0,751.3 417.5,753.4 C420.0,755.5 422.8,756.3 425.6,757.4 C428.4,758.5 430.9,758.4 433.7,759.5 C436.5,760.6 439.6,762.1 441.8,763.5 C444.0,764.9 445.3,766.9 446.0,767.6" fill="none" stroke="#ff8000" stroke-width="2.90" stroke-linejoin="round" stroke-linecap="round" />
<path d="M51.0,829.8 C53.1,830.6 59.5,833.2 63.2,834.3 C66.9,835.4 69.3,835.8 72.2,836.1 C75.1,836.4 76.6,835.5 79.5,836.1 C82.4,836.7 86.0,839.8 88.5,839.7 C91.0,839.6 91.6,837.4 93.7,835.5 C95.8,833.6 98.1,830.3 100.5,828.7 C102.9,827.1 104.8,826.1 107.2,826.5 C109.6,826.9 112.0,829.8 114.0,831.0 C116.0,832.2 116.5,834.0 118.5,833.2 C120.5,832.4 122.8,828.9 125.2,826.5 C127.6,824.1 129.6,822.5 132.0,819.7 C134.4,816.9 136.3,813.4 138.7,810.7 C141.1,808.0 143.1,806.0 145.5,804.0 C147.9,802.0 149.8,801.1 152.2,799.5 C154.6,797.9 156.6,796.2 159.0,795.0 C161.4,793.8 163.7,792.7 165.7,792.7 C167.7,792.7 168.3,796.5 170.2,795.0 C172.1,793.5 174.4,785.1 176.7,784.0 C179.0,782.9 181.1,788.1 183.5,788.5 C185.9,788.9 187.8,787.0 190.2,786.2 C192.6,785.4 194.6,784.8 197.0,784.0 C199.4,783.2 201.3,783.3 203.7,781.7 C206.1,780.1 208.1,775.4 210.5,775.0 C212.9,774.6 214.8,779.1 217.2,779.5 C219.6,779.9 221.6,778.0 224.0,777.2 C226.4,776.4 228.3,777.0 230.7,775.0 C233.1,773.0 235.1,766.8 237.5,766.0 C239.9,765.2 241.8,769.3 244.2,770.5 C246.6,771.7 248.6,771.1 251.0,772.7 C253.4,774.3 255.4,779.5 257.7,779.5 C260.0,779.5 262.0,776.3 264.4,772.7 C266.8,769.1 268.8,763.1 271.2,759.2 C273.6,755.3 275.5,751.4 277.9,750.2 C280.3,749.0 282.3,750.9 284.7,752.5 C287.1,754.1 289.0,757.2 291.4,759.2 C293.8,761.2 296.3,764.1 298.2,763.7 C300.1,763.3 301.0,758.8 302.0,757.0 C303.0,755.2 302.9,756.9 304.0,753.4 C305.1,749.9 306.7,740.0 308.1,737.2 C309.5,734.4 310.8,734.4 312.2,737.2 C313.6,740.0 314.8,749.9 316.2,753.4 C317.6,756.9 318.9,760.2 320.3,757.4 C321.7,754.6 322.9,746.1 324.3,737.2 C325.7,728.3 327.0,712.8 328.4,706.8 C329.8,700.8 331.0,703.1 332.4,702.8 C333.8,702.4 335.1,705.2 336.5,704.8 C337.9,704.4 338.7,702.1 340.5,700.7 C342.3,699.3 344.1,696.7 346.6,696.7 C349.1,696.7 352.2,701.4 354.7,700.7 C357.2,700.0 359.0,694.0 360.8,692.6 C362.6,691.2 363.0,691.2 364.8,692.6 C366.6,694.0 368.8,698.9 370.9,700.7 C373.0,702.5 375.2,701.7 377.0,702.8 C378.8,703.9 379.6,704.7 381.0,706.8 C382.4,708.9 383.7,712.4 385.1,714.9 C386.5,717.4 387.3,719.2 389.1,721.0 C390.9,722.8 393.1,723.6 395.2,725.0 C397.3,726.4 399.2,727.7 401.3,729.1 C403.4,730.5 405.2,731.0 407.3,733.1 C409.4,735.2 411.3,737.6 413.4,741.2 C415.5,744.8 417.0,750.6 419.5,753.4 C422.0,756.2 424.8,756.7 427.6,757.4 C430.4,758.1 433.2,756.7 435.7,757.4 C438.2,758.1 440.0,760.1 441.8,761.5 C443.6,762.9 445.3,764.8 446.0,765.5" fill="none" stroke="#ff0000" stroke-width="2.90" stroke-linejoin="round" stroke-linecap="round" />
<path d="M51.0,815.2 C53.0,816.0 59.1,819.7 62.2,819.7 C65.4,819.7 66.2,816.4 69.0,815.2 C71.8,814.0 74.8,813.4 78.0,813.0 C81.2,812.6 83.8,813.8 87.0,813.0 C90.2,812.2 93.6,809.1 96.0,808.5 C98.4,807.9 98.9,808.8 100.5,809.6 C102.1,810.4 103.4,812.0 105.0,813.0 C106.6,814.0 107.9,815.2 109.5,815.2 C111.1,815.2 112.4,812.6 114.0,813.0 C115.6,813.4 116.9,819.1 118.5,817.5 C120.1,815.9 121.2,807.9 123.0,804.0 C124.8,800.1 126.8,794.2 128.6,795.0 C130.4,795.8 131.7,805.4 133.1,808.5 C134.5,811.6 135.1,814.6 136.5,813.0 C137.9,811.4 139.4,801.1 141.0,799.5 C142.6,797.9 143.9,803.2 145.5,804.0 C147.1,804.8 148.4,804.4 150.0,804.0 C151.6,803.6 152.5,802.1 154.5,801.7 C156.5,801.3 159.2,801.3 161.2,801.7 C163.2,802.1 164.3,802.8 165.7,804.0 C167.1,805.2 167.7,810.5 169.1,808.5 C170.5,806.5 172.3,796.6 173.6,792.7 C174.9,788.8 175.0,786.6 176.7,786.2 C178.4,785.9 181.1,790.7 183.5,790.7 C185.9,790.7 187.8,787.4 190.2,786.2 C192.6,785.0 194.6,785.2 197.0,784.0 C199.4,782.8 201.3,781.1 203.7,779.5 C206.1,777.9 208.5,776.6 210.5,775.0 C212.5,773.4 213.4,769.7 215.0,770.5 C216.6,771.3 217.5,776.8 219.5,779.5 C221.5,782.2 223.8,787.0 226.2,786.2 C228.6,785.4 230.6,778.5 233.0,775.0 C235.4,771.5 237.3,766.4 239.7,766.0 C242.1,765.6 244.1,770.3 246.5,772.7 C248.9,775.1 250.8,779.1 253.2,779.5 C255.6,779.9 258.0,779.7 260.0,775.0 C262.0,770.3 262.8,759.2 264.4,752.5 C266.0,745.8 267.3,738.7 268.9,736.7 C270.5,734.7 271.8,738.4 273.4,741.2 C275.0,744.0 276.3,752.9 277.9,752.5 C279.5,752.1 280.8,739.8 282.4,739.0 C284.0,738.2 285.3,744.1 286.9,748.0 C288.5,751.9 289.8,758.8 291.4,761.5 C293.0,764.2 294.4,765.5 295.9,763.7 C297.4,761.9 298.2,755.3 300.0,751.4 C301.8,747.5 304.3,745.5 306.1,741.2 C307.9,736.9 308.7,728.1 310.1,727.1 C311.5,726.1 312.8,735.6 314.2,735.2 C315.6,734.8 316.8,731.0 318.2,725.0 C319.6,719.0 320.9,710.3 322.3,700.7 C323.7,691.1 324.9,675.7 326.3,670.4 C327.7,665.1 329.2,669.7 330.4,670.4 C331.6,671.1 332.3,670.9 333.4,674.4 C334.5,677.9 335.3,687.0 336.5,690.6 C337.7,694.2 338.7,695.1 340.5,694.7 C342.3,694.4 344.5,690.7 346.6,688.6 C348.7,686.5 350.6,682.1 352.7,682.5 C354.8,682.9 356.6,688.8 358.7,690.6 C360.8,692.4 362.7,690.8 364.8,692.6 C366.9,694.4 368.8,699.6 370.9,700.7 C373.0,701.8 374.9,697.3 377.0,698.7 C379.1,700.1 380.9,704.2 383.0,708.8 C385.1,713.4 387.3,721.1 389.1,725.0 C390.9,728.9 391.4,730.7 393.2,731.1 C395.0,731.5 397.1,727.1 399.2,727.1 C401.3,727.1 402.8,729.0 405.3,731.1 C407.8,733.2 410.6,736.7 413.4,739.2 C416.2,741.7 418.3,743.5 421.5,745.3 C424.7,747.1 428.4,747.5 431.6,749.3 C434.8,751.1 437.2,753.3 439.7,755.4 C442.2,757.5 444.9,760.4 446.0,761.5" fill="none" stroke="#b81212" stroke-width="2.90" stroke-linejoin="round" stroke-linecap="round" />
</g>
<g clip-path="url(#c21)">
<polygon points="478.6,822.0 492.1,823.1 505.6,823.1 519.1,822.0 532.6,819.7 546.1,816.4 557.3,813.0 568.6,808.5 579.8,804.0 591.1,797.2 597.6,788.5 608.8,781.7 620.1,775.0 631.3,768.2 642.6,759.2 653.8,748.0 665.1,739.0 676.3,727.7 687.6,716.5 698.8,709.7 710.0,700.7 721.3,696.2 727.6,694.7 737.7,690.6 747.9,688.6 758.0,686.6 768.1,684.5 778.2,682.5 788.4,688.6 798.5,692.6 808.6,698.7 818.7,706.8 828.9,714.9 839.0,725.0 849.1,733.1 859.2,741.2 873.6,753.4 873.6,767.6 859.2,757.4 849.1,749.3 839.0,741.2 828.9,733.1 818.7,729.1 808.6,725.0 798.5,721.0 788.4,716.9 778.2,712.9 768.1,714.9 758.0,719.0 747.9,725.0 737.7,727.1 727.6,733.1 721.3,739.0 710.0,745.7 698.8,752.5 687.6,759.2 676.3,766.0 665.1,770.5 653.8,775.0 642.6,781.7 631.3,788.5 620.1,793.0 608.8,797.5 597.6,808.7 591.1,810.7 579.8,815.2 568.6,817.5 557.3,822.0 546.1,826.5 532.6,831.0 519.1,832.1 505.6,834.4 492.1,833.2 478.6,831.0" fill="#bfbfbf" stroke="#94d3e8" stroke-width="3.4" stroke-linejoin="round"/>
<path d="M478.6,813.0 C480.2,813.4 484.5,815.2 487.6,815.2 C490.8,815.2 493.5,813.0 496.6,813.0 C499.8,813.0 502.5,815.2 505.6,815.2 C508.8,815.2 511.5,813.8 514.6,813.0 C517.8,812.2 520.5,812.3 523.6,810.7 C526.8,809.1 530.2,804.8 532.6,804.0 C535.0,803.2 535.5,805.4 537.1,806.2 C538.7,807.0 539.6,808.5 541.6,808.5 C543.6,808.5 545.9,807.8 548.3,806.2 C550.7,804.6 552.7,801.5 555.1,799.5 C557.5,797.5 559.4,795.8 561.8,795.0 C564.2,794.2 566.6,795.8 568.6,795.0 C570.6,794.2 571.5,791.7 573.1,790.5 C574.7,789.3 576.0,789.8 577.6,788.2 C579.2,786.6 580.1,783.5 582.1,781.5 C584.1,779.5 586.8,779.0 588.8,777.0 C590.8,775.0 591.8,771.3 593.3,770.2 C594.8,769.1 596.1,772.8 597.6,770.5 C599.1,768.2 600.1,760.1 602.1,757.0 C604.1,753.9 606.4,754.5 608.8,752.5 C611.2,750.5 613.2,748.5 615.6,745.7 C618.0,742.9 620.3,739.4 622.3,736.7 C624.3,734.0 624.8,733.5 626.8,730.0 C628.8,726.5 631.8,718.1 633.6,716.5 C635.4,714.9 635.8,719.4 637.0,721.0 C638.2,722.6 638.9,725.9 640.3,725.5 C641.7,725.1 643.2,720.7 644.8,718.7 C646.4,716.7 647.9,713.4 649.3,714.2 C650.7,715.0 651.1,726.4 652.7,723.2 C654.3,720.1 656.5,702.9 658.3,696.2 C660.1,689.5 660.8,685.8 662.8,685.0 C664.8,684.2 667.2,692.5 669.6,691.7 C672.0,690.9 674.1,683.6 676.3,680.5 C678.5,677.4 679.9,673.9 681.9,673.7 C683.9,673.5 685.8,678.2 687.6,679.4 C689.4,680.6 690.4,681.9 692.0,680.5 C693.6,679.1 695.1,674.6 696.5,671.5 C697.9,668.4 698.3,664.5 699.9,662.5 C701.5,660.5 703.7,661.4 705.5,660.2 C707.3,659.0 708.4,656.1 710.0,655.7 C711.6,655.3 713.1,656.8 714.5,658.0 C715.9,659.2 716.7,662.5 717.9,662.5 C719.1,662.5 719.9,660.4 721.3,658.0 C722.7,655.6 724.2,649.8 725.8,649.0 C727.4,648.2 729.3,653.7 730.3,653.5 C731.3,653.3 730.7,646.2 731.6,648.1 C732.5,650.0 734.3,660.4 735.7,664.3 C737.1,668.2 738.4,669.7 739.8,670.4 C741.2,671.1 742.4,670.8 743.8,668.3 C745.2,665.8 746.5,658.7 747.9,656.2 C749.3,653.7 750.1,656.3 751.9,654.2 C753.7,652.1 756.2,645.4 758.0,644.0 C759.8,642.6 760.6,646.5 762.0,646.1 C763.4,645.8 764.7,641.0 766.1,642.0 C767.5,643.0 768.3,648.9 770.1,652.1 C771.9,655.3 774.1,659.8 776.2,660.2 C778.3,660.6 780.2,653.8 782.3,654.2 C784.4,654.6 786.6,661.2 788.4,662.3 C790.2,663.3 791.0,659.5 792.4,660.2 C793.8,660.9 794.7,665.2 796.5,666.3 C798.3,667.4 800.4,664.5 802.5,666.3 C804.6,668.1 806.5,675.7 808.6,676.4 C810.7,677.1 812.6,669.7 814.7,670.4 C816.8,671.1 818.7,676.6 820.8,680.5 C822.9,684.4 824.7,689.4 826.8,692.6 C828.9,695.8 830.4,696.6 832.9,698.7 C835.4,700.8 838.2,702.3 841.0,704.8 C843.8,707.3 846.3,710.4 849.1,712.9 C851.9,715.4 854.4,716.9 857.2,719.0 C860.0,721.1 862.4,723.2 865.3,725.0 C868.2,726.8 872.1,728.4 873.6,729.1" fill="none" stroke="#808080" stroke-width="2.90" stroke-linejoin="round" stroke-linecap="round" />
<path d="M478.6,840.0 C480.2,839.8 484.5,838.9 487.6,838.9 C490.8,838.9 494.2,839.4 496.6,840.0 C499.0,840.6 499.5,841.4 501.1,842.2 C502.7,843.0 503.6,844.9 505.6,844.5 C507.6,844.1 509.9,840.4 512.3,840.0 C514.7,839.6 516.7,842.2 519.1,842.2 C521.5,842.2 523.4,840.0 525.8,840.0 C528.2,840.0 530.2,841.8 532.6,842.2 C535.0,842.6 536.9,842.6 539.3,842.2 C541.7,841.8 543.3,840.0 546.1,840.0 C548.9,840.0 552.7,841.4 555.1,842.2 C557.5,843.0 558.0,845.3 559.6,844.5 C561.2,843.7 562.5,839.7 564.1,837.7 C565.7,835.7 566.6,834.0 568.6,833.2 C570.6,832.4 572.9,833.2 575.3,833.2 C577.7,833.2 579.7,833.6 582.1,833.2 C584.5,832.8 587.2,832.2 588.8,831.0 C590.4,829.8 589.6,827.6 591.1,826.5 C592.6,825.4 595.7,825.6 597.6,824.5 C599.5,823.4 600.1,822.0 602.1,820.0 C604.1,818.0 606.4,815.6 608.8,813.2 C611.2,810.8 613.2,808.1 615.6,806.5 C618.0,804.9 619.9,805.0 622.3,804.2 C624.7,803.4 626.7,803.2 629.1,802.0 C631.5,800.8 633.4,798.7 635.8,797.5 C638.2,796.3 640.2,796.0 642.6,795.2 C645.0,794.4 646.9,793.0 649.3,793.0 C651.7,793.0 653.7,794.4 656.1,795.2 C658.5,796.0 660.4,797.9 662.8,797.5 C665.2,797.1 667.2,793.8 669.6,793.0 C672.0,792.2 673.9,793.8 676.3,793.0 C678.7,792.2 680.7,790.1 683.1,788.5 C685.5,786.9 687.5,787.1 689.8,784.0 C692.1,780.9 694.1,772.5 696.5,770.5 C698.9,768.5 700.9,771.5 703.3,772.7 C705.7,773.9 707.6,777.6 710.0,777.2 C712.4,776.8 714.4,770.9 716.8,770.5 C719.2,770.1 721.1,773.4 723.5,775.0 C725.9,776.6 728.2,779.7 730.3,779.5 C732.4,779.3 733.7,775.0 735.7,773.6 C737.7,772.2 739.7,770.9 741.8,771.6 C743.9,772.3 745.8,775.9 747.9,777.7 C750.0,779.5 751.8,780.6 753.9,781.7 C756.0,782.8 757.9,783.8 760.0,783.8 C762.1,783.8 764.0,782.1 766.1,781.7 C768.2,781.3 770.1,782.4 772.2,781.7 C774.3,781.0 776.1,779.1 778.2,777.7 C780.3,776.3 782.2,773.2 784.3,773.6 C786.4,774.0 788.3,779.0 790.4,779.7 C792.5,780.4 794.4,777.7 796.5,777.7 C798.6,777.7 800.7,779.0 802.5,779.7 C804.3,780.4 804.8,785.2 806.6,781.7 C808.4,778.2 810.9,762.7 812.7,759.5 C814.5,756.3 814.9,763.9 816.7,763.5 C818.5,763.1 820.7,758.1 822.8,757.4 C824.9,756.7 826.4,758.4 828.9,759.5 C831.4,760.6 834.2,762.1 837.0,763.5 C839.8,764.9 842.3,765.8 845.1,767.6 C847.9,769.4 850.4,771.5 853.2,773.6 C856.0,775.7 858.5,777.9 861.3,779.7 C864.1,781.5 867.2,782.9 869.4,783.8 C871.6,784.7 872.9,784.6 873.6,784.8" fill="none" stroke="#808080" stroke-width="2.90" stroke-linejoin="round" stroke-linecap="round" />
<path d="M478.6,827.6 C481.0,827.8 487.4,828.3 492.1,828.7 C496.8,829.1 500.9,830.1 505.6,829.9 C510.3,829.7 514.4,828.2 519.1,827.6 C523.8,827.0 528.3,827.5 532.6,826.5 C536.9,825.5 539.9,823.6 543.8,822.0 C547.7,820.4 551.2,819.1 555.1,817.5 C559.0,815.9 562.4,814.6 566.3,813.0 C570.2,811.4 573.3,810.1 577.6,808.5 C581.9,806.9 587.2,806.0 591.1,804.0 C595.0,802.0 597.0,799.9 600.1,797.2 C603.2,794.5 605.3,790.8 608.8,788.5 C612.3,786.2 616.2,786.0 620.1,784.0 C624.0,782.0 627.4,779.6 631.3,777.2 C635.2,774.8 638.7,773.2 642.6,770.5 C646.5,767.8 649.9,764.3 653.8,761.5 C657.7,758.7 661.2,757.1 665.1,754.7 C669.0,752.3 672.4,751.1 676.3,748.0 C680.2,744.9 683.7,740.3 687.6,736.7 C691.5,733.1 694.9,730.1 698.8,727.7 C702.7,725.3 706.1,725.2 710.0,723.2 C713.9,721.2 718.2,718.0 721.3,716.5 C724.4,715.0 724.7,715.5 727.6,714.9 C730.5,714.3 734.1,713.6 737.7,712.9 C741.3,712.2 744.3,712.0 747.9,710.9 C751.5,709.8 754.5,707.9 758.0,706.8 C761.5,705.7 764.6,705.5 768.1,704.8 C771.6,704.1 774.6,702.4 778.2,702.8 C781.8,703.1 784.8,705.9 788.4,706.8 C792.0,707.7 795.7,707.4 798.5,707.8 C801.3,708.1 802.1,707.2 804.6,708.8 C807.1,710.4 809.9,714.8 812.7,716.9 C815.5,719.0 818.0,719.6 820.8,721.0 C823.6,722.4 826.1,722.9 828.9,725.0 C831.7,727.1 834.2,730.6 837.0,733.1 C839.8,735.6 842.3,737.1 845.1,739.2 C847.9,741.3 850.4,742.8 853.2,745.3 C856.0,747.8 857.7,750.2 861.3,753.4 C864.9,756.6 871.4,761.7 873.6,763.5" fill="none" stroke="#000" stroke-width="3.00" stroke-linejoin="round" stroke-linecap="round" />
<path d="M478.0,833.2 C479.6,833.6 483.9,834.3 487.0,835.5 C490.1,836.7 493.3,840.0 496.0,840.0 C498.7,840.0 500.3,836.7 502.7,835.5 C505.1,834.3 507.1,833.4 509.5,833.2 C511.9,833.0 513.8,834.4 516.2,834.4 C518.6,834.4 520.6,833.6 523.0,833.2 C525.4,832.8 527.3,832.3 529.7,832.1 C532.1,831.9 534.5,831.5 536.5,832.1 C538.5,832.7 539.4,834.1 541.0,835.5 C542.6,836.9 543.9,840.8 545.5,840.0 C547.1,839.2 548.4,834.1 550.0,831.0 C551.6,827.9 552.9,824.4 554.5,822.0 C556.1,819.6 557.4,819.1 559.0,817.5 C560.6,815.9 561.9,814.6 563.5,813.0 C565.1,811.4 566.4,809.7 568.0,808.5 C569.6,807.3 570.8,806.6 572.4,806.2 C574.0,805.8 575.3,805.4 576.9,806.2 C578.5,807.0 580.0,809.1 581.4,810.7 C582.8,812.3 583.6,815.6 584.8,815.2 C586.0,814.8 586.8,810.5 588.2,808.5 C589.6,806.5 591.1,806.4 592.7,804.0 C594.3,801.6 595.8,798.1 597.2,795.0 C598.6,791.9 599.6,789.9 600.6,786.0 C601.6,782.1 601.8,775.6 602.8,772.5 C603.8,769.4 604.7,770.7 606.2,768.0 C607.7,765.3 609.5,760.1 611.2,757.0 C612.9,753.9 614.1,752.2 615.7,750.2 C617.3,748.2 618.6,746.1 620.2,745.7 C621.8,745.3 623.1,750.7 624.7,748.0 C626.3,745.3 627.6,735.3 629.2,730.0 C630.8,724.7 632.1,719.2 633.7,717.6 C635.3,716.0 636.6,719.6 638.2,721.0 C639.8,722.4 641.1,725.9 642.7,725.5 C644.3,725.1 645.8,720.3 647.2,718.7 C648.6,717.1 649.2,714.1 650.6,716.5 C652.0,718.9 653.7,733.0 655.1,732.2 C656.5,731.4 657.5,717.5 658.5,712.0 C659.5,706.5 659.7,700.3 660.7,700.7 C661.7,701.1 662.9,710.6 664.1,714.2 C665.3,717.8 666.1,719.0 667.5,721.0 C668.9,723.0 670.4,723.9 672.0,725.5 C673.6,727.1 674.9,728.0 676.5,730.0 C678.1,732.0 679.4,732.8 681.0,736.7 C682.6,740.6 683.9,747.4 685.5,752.5 C687.1,757.6 688.4,764.8 690.0,766.0 C691.6,767.2 692.8,760.0 694.4,759.2 C696.0,758.4 696.9,760.7 698.9,761.5 C700.9,762.3 703.3,764.5 705.7,763.7 C708.1,762.9 710.0,757.8 712.4,757.0 C714.8,756.2 716.8,759.2 719.2,759.2 C721.6,759.2 723.6,757.8 725.9,757.0 C728.2,756.2 730.6,753.9 732.5,754.7 C734.4,755.5 735.4,759.1 737.0,761.5 C738.6,763.9 739.9,766.6 741.5,768.2 C743.1,769.8 744.4,770.9 746.0,770.5 C747.6,770.1 748.9,765.2 750.5,766.0 C752.1,766.8 753.4,772.6 755.0,775.0 C756.6,777.4 757.9,777.9 759.5,779.5 C761.1,781.1 762.4,783.6 764.0,784.0 C765.6,784.4 766.9,782.9 768.5,781.7 C770.1,780.5 771.0,779.6 773.0,777.2 C775.0,774.8 777.7,770.9 779.7,768.2 C781.7,765.5 782.6,760.7 784.2,761.5 C785.8,762.3 786.7,771.1 788.7,772.7 C790.7,774.3 793.1,771.3 795.5,770.5 C797.9,769.7 800.2,767.4 802.2,768.2 C804.2,769.0 805.1,776.6 806.7,775.0 C808.3,773.4 809.6,763.5 811.2,759.2 C812.8,754.9 813.7,752.2 815.7,750.2 C817.7,748.2 820.5,749.6 822.5,748.0 C824.5,746.4 825.0,742.8 827.0,741.2 C829.0,739.6 831.7,741.0 833.7,739.0 C835.7,737.0 836.6,730.8 838.2,730.0 C839.8,729.2 840.7,732.1 842.7,734.5 C844.7,736.9 847.1,741.1 849.5,743.5 C851.9,745.9 853.8,746.0 856.2,748.0 C858.6,750.0 859.9,751.6 863.0,754.7 C866.1,757.9 872.1,764.0 874.0,766.0" fill="none" stroke="#00c800" stroke-width="2.90" stroke-linejoin="round" stroke-linecap="round" />
<path d="M478.0,822.0 C479.6,822.4 483.9,823.4 487.0,824.2 C490.1,825.0 493.3,826.5 496.0,826.5 C498.7,826.5 500.3,825.0 502.7,824.2 C505.1,823.4 507.1,822.2 509.5,822.0 C511.9,821.8 513.8,822.7 516.2,823.1 C518.6,823.5 520.6,824.8 523.0,824.2 C525.4,823.6 527.3,820.9 529.7,819.7 C532.1,818.5 534.1,818.3 536.5,817.5 C538.9,816.7 540.8,816.0 543.2,815.2 C545.6,814.4 547.6,814.2 550.0,813.0 C552.4,811.8 554.3,809.7 556.7,808.5 C559.1,807.3 561.1,807.8 563.5,806.2 C565.9,804.6 568.6,801.9 570.2,799.5 C571.8,797.1 571.2,792.7 572.4,792.7 C573.6,792.7 575.3,797.9 576.9,799.5 C578.5,801.1 579.8,801.7 581.4,801.7 C583.0,801.7 584.3,800.3 585.9,799.5 C587.5,798.7 588.8,796.4 590.4,797.2 C592.0,798.0 593.3,804.4 594.9,804.0 C596.5,803.6 597.7,796.5 599.4,795.0 C601.1,793.5 602.4,797.1 604.5,795.2 C606.6,793.3 609.2,786.4 611.2,784.0 C613.2,781.6 614.1,781.7 615.7,781.7 C617.3,781.7 618.6,782.8 620.2,784.0 C621.8,785.2 622.7,788.1 624.7,788.5 C626.7,788.9 629.5,788.2 631.5,786.2 C633.5,784.2 634.4,779.6 636.0,777.2 C637.6,774.8 638.9,773.9 640.5,772.7 C642.1,771.5 643.4,770.1 645.0,770.5 C646.6,770.9 647.9,773.4 649.5,775.0 C651.1,776.6 652.4,778.3 654.0,779.5 C655.6,780.7 656.9,782.5 658.5,781.7 C660.1,780.9 661.4,776.6 663.0,775.0 C664.6,773.4 665.5,774.3 667.5,772.7 C669.5,771.1 671.8,767.2 674.2,766.0 C676.6,764.8 679.0,765.6 681.0,766.0 C683.0,766.4 683.9,769.4 685.5,768.2 C687.1,767.0 688.4,762.4 690.0,759.2 C691.6,756.1 692.8,752.9 694.4,750.2 C696.0,747.5 697.5,747.0 698.9,743.5 C700.3,740.0 701.1,730.4 702.3,730.0 C703.5,729.6 704.3,737.3 705.7,741.2 C707.1,745.1 708.6,749.7 710.2,752.5 C711.8,755.3 713.1,756.2 714.7,757.0 C716.3,757.8 717.6,756.2 719.2,757.0 C720.8,757.8 722.2,760.3 723.7,761.5 C725.2,762.7 725.7,762.9 728.0,763.7 C730.3,764.5 734.3,764.8 737.0,766.0 C739.7,767.2 741.3,768.9 743.7,770.5 C746.1,772.1 748.1,773.4 750.5,775.0 C752.9,776.6 755.0,777.5 757.2,779.5 C759.4,781.5 760.9,787.4 762.9,786.2 C764.9,785.0 766.7,775.4 768.5,772.7 C770.3,770.0 771.4,772.9 773.0,770.5 C774.6,768.1 775.9,762.0 777.5,759.2 C779.1,756.4 780.4,754.3 782.0,754.7 C783.6,755.1 784.9,764.6 786.5,761.5 C788.1,758.4 789.4,742.6 791.0,736.7 C792.6,730.8 794.1,730.9 795.5,727.7 C796.9,724.6 797.3,719.9 798.9,718.7 C800.5,717.5 802.3,721.0 804.5,721.0 C806.7,721.0 808.8,718.7 811.2,718.7 C813.6,718.7 815.6,719.8 818.0,721.0 C820.4,722.2 822.3,723.5 824.7,725.5 C827.1,727.5 829.1,729.8 831.5,732.2 C833.9,734.6 835.8,736.2 838.2,739.0 C840.6,741.8 843.0,744.9 845.0,748.0 C847.0,751.1 847.5,753.9 849.5,757.0 C851.5,760.1 853.8,763.6 856.2,766.0 C858.6,768.4 859.9,768.5 863.0,770.5 C866.1,772.5 872.1,776.0 874.0,777.2" fill="none" stroke="#008080" stroke-width="2.90" stroke-linejoin="round" stroke-linecap="round" />
<path d="M478.0,819.7 C479.6,819.7 483.9,819.9 487.0,819.7 C490.1,819.5 493.6,818.6 496.0,818.6 C498.4,818.6 498.9,818.7 500.5,819.7 C502.1,820.7 503.0,823.0 505.0,824.2 C507.0,825.4 509.7,826.1 511.7,826.5 C513.7,826.9 514.6,827.3 516.2,826.5 C517.8,825.7 519.1,823.4 520.7,822.0 C522.3,820.6 523.6,818.6 525.2,818.6 C526.8,818.6 527.7,821.8 529.7,822.0 C531.7,822.2 534.1,818.9 536.5,819.7 C538.9,820.5 540.8,826.1 543.2,826.5 C545.6,826.9 547.6,823.6 550.0,822.0 C552.4,820.4 554.3,819.9 556.7,817.5 C559.1,815.1 561.5,809.7 563.5,808.5 C565.5,807.3 566.4,809.5 568.0,810.7 C569.6,811.9 570.8,814.8 572.4,815.2 C574.0,815.6 575.3,813.8 576.9,813.0 C578.5,812.2 579.8,811.5 581.4,810.7 C583.0,809.9 584.3,809.3 585.9,808.5 C587.5,807.7 588.8,807.8 590.4,806.2 C592.0,804.6 593.3,802.2 594.9,799.5 C596.5,796.8 598.0,794.1 599.4,790.5 C600.8,786.9 601.6,782.8 602.8,779.2 C604.0,775.6 604.9,774.1 606.2,770.2 C607.5,766.3 608.6,757.7 610.1,757.0 C611.6,756.3 612.8,762.1 614.6,766.0 C616.4,769.9 618.4,775.6 620.2,779.5 C622.0,783.4 623.1,785.8 624.7,788.5 C626.3,791.2 627.8,793.2 629.2,795.2 C630.6,797.2 631.4,800.1 632.6,799.7 C633.8,799.3 634.6,795.0 636.0,793.0 C637.4,791.0 638.9,792.1 640.5,788.5 C642.1,784.9 643.4,776.6 645.0,772.7 C646.6,768.8 647.9,768.0 649.5,766.0 C651.1,764.0 652.4,760.3 654.0,761.5 C655.6,762.7 656.9,770.0 658.5,772.7 C660.1,775.4 661.4,776.8 663.0,777.2 C664.6,777.6 665.9,775.8 667.5,775.0 C669.1,774.2 670.4,771.9 672.0,772.7 C673.6,773.5 674.9,780.7 676.5,779.5 C678.1,778.3 679.4,770.3 681.0,766.0 C682.6,761.7 684.3,758.6 685.5,754.7 C686.7,750.8 686.5,745.1 687.7,743.5 C688.9,741.9 690.6,743.7 692.2,745.7 C693.8,747.7 695.1,754.7 696.7,754.7 C698.3,754.7 699.6,747.7 701.2,745.7 C702.8,743.7 704.1,742.7 705.7,743.5 C707.3,744.3 708.6,746.3 710.2,750.2 C711.8,754.1 713.1,762.4 714.7,766.0 C716.3,769.6 717.6,770.1 719.2,770.5 C720.8,770.9 722.2,769.0 723.7,768.2 C725.2,767.4 726.7,768.4 728.0,766.0 C729.3,763.6 730.2,755.5 731.4,754.7 C732.6,753.9 733.3,758.4 734.7,761.5 C736.1,764.6 737.2,770.3 739.2,772.7 C741.2,775.1 744.0,774.2 746.0,775.0 C748.0,775.8 748.9,775.6 750.5,777.2 C752.1,778.8 753.4,784.4 755.0,784.0 C756.6,783.6 757.9,778.1 759.5,775.0 C761.1,771.9 762.6,768.4 764.0,766.0 C765.4,763.6 766.2,761.1 767.4,761.5 C768.6,761.9 769.3,765.8 770.7,768.2 C772.1,770.6 773.8,772.2 775.2,775.0 C776.6,777.8 777.0,784.8 778.6,784.0 C780.2,783.2 782.4,771.3 784.2,770.5 C786.0,769.7 786.7,778.7 788.7,779.5 C790.7,780.3 793.5,775.4 795.5,775.0 C797.5,774.6 798.2,775.6 800.0,777.2 C801.8,778.8 803.8,785.2 805.6,784.0 C807.4,782.8 808.7,775.2 810.1,770.5 C811.5,765.8 812.1,757.8 813.5,757.0 C814.9,756.2 816.4,764.8 818.0,766.0 C819.6,767.2 820.9,766.5 822.5,763.7 C824.1,760.9 825.6,753.7 827.0,750.2 C828.4,746.7 829.2,743.9 830.4,743.5 C831.6,743.1 832.3,744.9 833.7,748.0 C835.1,751.1 836.6,759.5 838.2,761.5 C839.8,763.5 841.1,760.0 842.7,759.2 C844.3,758.4 845.6,756.6 847.2,757.0 C848.8,757.4 849.9,759.9 851.7,761.5 C853.5,763.1 855.4,765.6 857.4,766.0 C859.4,766.4 860.1,762.9 863.0,763.7 C865.9,764.5 872.1,769.3 874.0,770.5" fill="none" stroke="#0000ff" stroke-width="2.90" stroke-linejoin="round" stroke-linecap="round" />
<path d="M478.0,826.5 C479.2,826.9 482.3,828.7 484.7,828.7 C487.1,828.7 488.7,826.7 491.5,826.5 C494.3,826.3 497.4,827.2 500.5,827.6 C503.6,828.0 506.8,828.1 509.5,828.7 C512.2,829.3 513.8,831.4 516.2,831.0 C518.6,830.6 520.6,828.1 523.0,826.5 C525.4,824.9 527.3,823.6 529.7,822.0 C532.1,820.4 534.1,819.5 536.5,817.5 C538.9,815.5 540.8,813.1 543.2,810.7 C545.6,808.3 547.6,806.7 550.0,804.0 C552.4,801.3 554.7,796.2 556.7,795.0 C558.7,793.8 559.2,796.0 561.2,797.2 C563.2,798.4 566.0,801.7 568.0,801.7 C570.0,801.7 570.8,797.6 572.4,797.2 C574.0,796.8 575.3,798.7 576.9,799.5 C578.5,800.3 579.8,801.7 581.4,801.7 C583.0,801.7 584.3,800.3 585.9,799.5 C587.5,798.7 588.4,798.8 590.4,797.2 C592.4,795.6 595.5,792.8 597.2,790.5 C598.9,788.2 598.3,786.3 600.0,784.0 C601.7,781.7 604.3,778.8 606.7,777.2 C609.1,775.6 611.1,775.4 613.5,775.0 C615.9,774.6 618.2,774.2 620.2,775.0 C622.2,775.8 623.1,777.9 624.7,779.5 C626.3,781.1 627.2,783.2 629.2,784.0 C631.2,784.8 634.0,784.4 636.0,784.0 C638.0,783.6 638.9,783.3 640.5,781.7 C642.1,780.1 643.4,777.4 645.0,775.0 C646.6,772.6 647.9,770.6 649.5,768.2 C651.1,765.8 652.4,760.7 654.0,761.5 C655.6,762.3 656.9,770.3 658.5,772.7 C660.1,775.1 661.4,775.4 663.0,775.0 C664.6,774.6 665.9,772.1 667.5,770.5 C669.1,768.9 670.4,768.4 672.0,766.0 C673.6,763.6 674.9,757.8 676.5,757.0 C678.1,756.2 679.4,760.7 681.0,761.5 C682.6,762.3 683.9,762.3 685.5,761.5 C687.1,760.7 688.4,757.8 690.0,757.0 C691.6,756.2 692.8,756.2 694.4,757.0 C696.0,757.8 697.3,761.9 698.9,761.5 C700.5,761.1 701.8,755.5 703.4,754.7 C705.0,753.9 706.3,755.8 707.9,757.0 C709.5,758.2 710.8,760.3 712.4,761.5 C714.0,762.7 715.3,764.1 716.9,763.7 C718.5,763.3 719.8,759.6 721.4,759.2 C723.0,758.8 724.3,761.9 725.9,761.5 C727.5,761.1 728.8,757.0 730.4,757.0 C732.0,757.0 733.7,759.1 734.9,761.5 C736.1,763.9 736.2,770.5 737.0,770.5 C737.8,770.5 738.2,767.8 739.2,761.5 C740.2,755.2 741.2,742.0 742.6,734.5 C744.0,727.0 745.9,719.5 747.1,718.7 C748.3,717.9 748.4,723.3 749.4,730.0 C750.4,736.7 751.3,753.5 752.7,757.0 C754.1,760.5 755.6,753.4 757.2,750.2 C758.8,747.1 760.5,743.7 761.7,739.0 C762.9,734.3 763.0,727.5 764.0,723.2 C765.0,718.9 766.4,715.0 767.4,714.2 C768.4,713.4 768.6,719.5 769.6,718.7 C770.6,717.9 771.6,711.7 773.0,709.7 C774.4,707.7 775.9,707.1 777.5,707.5 C779.1,707.9 780.0,711.6 782.0,712.0 C784.0,712.4 786.3,710.7 788.7,709.7 C791.1,708.7 793.1,706.4 795.5,706.4 C797.9,706.4 799.8,708.3 802.2,709.7 C804.6,711.1 806.2,712.2 809.0,714.2 C811.8,716.2 814.9,719.0 818.0,721.0 C821.1,723.0 823.9,722.8 827.0,725.5 C830.1,728.2 832.9,733.2 836.0,736.7 C839.1,740.2 841.9,742.9 845.0,745.7 C848.1,748.5 850.9,750.5 854.0,752.5 C857.1,754.5 859.5,754.6 863.0,757.0 C866.5,759.4 872.1,764.4 874.0,766.0" fill="none" stroke="#8b0080" stroke-width="2.90" stroke-linejoin="round" stroke-linecap="round" />
</g>
<rect x="51.0" y="112.4" width="395.0" height="241.6" fill="none" stroke="#808080" stroke-width="1.1"/>
<line x1="51.1" y1="354.0" x2="51.1" y2="356.6" stroke="#808080" stroke-width="1"/>
<line x1="95.5" y1="354.0" x2="95.5" y2="356.6" stroke="#808080" stroke-width="1"/>
<line x1="140.2" y1="354.0" x2="140.2" y2="356.6" stroke="#808080" stroke-width="1"/>
<line x1="182.9" y1="354.0" x2="182.9" y2="356.6" stroke="#808080" stroke-width="1"/>
<line x1="227.3" y1="354.0" x2="227.3" y2="356.6" stroke="#808080" stroke-width="1"/>
<line x1="271.0" y1="354.0" x2="271.0" y2="356.6" stroke="#808080" stroke-width="1"/>
<line x1="315.0" y1="354.0" x2="315.0" y2="356.6" stroke="#808080" stroke-width="1"/>
<line x1="359.9" y1="354.0" x2="359.9" y2="356.6" stroke="#808080" stroke-width="1"/>
<line x1="401.9" y1="354.0" x2="401.9" y2="356.6" stroke="#808080" stroke-width="1"/>
<line x1="445.8" y1="354.0" x2="445.8" y2="356.6" stroke="#808080" stroke-width="1"/>
<line x1="51.0" y1="142.2" x2="48.4" y2="142.2" stroke="#808080" stroke-width="1"/>
<text x="46.2" y="148.2" font-family="Liberation Sans, sans-serif" font-size="14.3" text-anchor="end" textLength="28.6" lengthAdjust="spacingAndGlyphs">230</text>
<line x1="51.0" y1="202.5" x2="48.4" y2="202.5" stroke="#808080" stroke-width="1"/>
<text x="46.2" y="208.5" font-family="Liberation Sans, sans-serif" font-size="14.3" text-anchor="end" textLength="28.6" lengthAdjust="spacingAndGlyphs">220</text>
<line x1="51.0" y1="263.0" x2="48.4" y2="263.0" stroke="#808080" stroke-width="1"/>
<text x="46.2" y="269.0" font-family="Liberation Sans, sans-serif" font-size="14.3" text-anchor="end" textLength="28.6" lengthAdjust="spacingAndGlyphs">210</text>
<line x1="51.0" y1="323.4" x2="48.4" y2="323.4" stroke="#808080" stroke-width="1"/>
<text x="46.2" y="329.4" font-family="Liberation Sans, sans-serif" font-size="14.3" text-anchor="end" textLength="28.6" lengthAdjust="spacingAndGlyphs">200</text>
<rect x="478.6" y="112.4" width="394.8" height="241.6" fill="none" stroke="#808080" stroke-width="1.1"/>
<line x1="478.7" y1="354.0" x2="478.7" y2="356.6" stroke="#808080" stroke-width="1"/>
<line x1="523.1" y1="354.0" x2="523.1" y2="356.6" stroke="#808080" stroke-width="1"/>
<line x1="567.8" y1="354.0" x2="567.8" y2="356.6" stroke="#808080" stroke-width="1"/>
<line x1="610.5" y1="354.0" x2="610.5" y2="356.6" stroke="#808080" stroke-width="1"/>
<line x1="654.9" y1="354.0" x2="654.9" y2="356.6" stroke="#808080" stroke-width="1"/>
<line x1="698.6" y1="354.0" x2="698.6" y2="356.6" stroke="#808080" stroke-width="1"/>
<line x1="742.6" y1="354.0" x2="742.6" y2="356.6" stroke="#808080" stroke-width="1"/>
<line x1="787.5" y1="354.0" x2="787.5" y2="356.6" stroke="#808080" stroke-width="1"/>
<line x1="829.5" y1="354.0" x2="829.5" y2="356.6" stroke="#808080" stroke-width="1"/>
<line x1="873.4" y1="354.0" x2="873.4" y2="356.6" stroke="#808080" stroke-width="1"/>
<line x1="478.6" y1="142.2" x2="476.0" y2="142.2" stroke="#808080" stroke-width="1"/>
<line x1="478.6" y1="202.5" x2="476.0" y2="202.5" stroke="#808080" stroke-width="1"/>
<line x1="478.6" y1="263.0" x2="476.0" y2="263.0" stroke="#808080" stroke-width="1"/>
<line x1="478.6" y1="323.4" x2="476.0" y2="323.4" stroke="#808080" stroke-width="1"/>
<rect x="51.0" y="369.6" width="395.0" height="241.4" fill="none" stroke="#808080" stroke-width="1.1"/>
<line x1="51.1" y1="611.0" x2="51.1" y2="613.6" stroke="#808080" stroke-width="1"/>
<line x1="95.5" y1="611.0" x2="95.5" y2="613.6" stroke="#808080" stroke-width="1"/>
<line x1="140.2" y1="611.0" x2="140.2" y2="613.6" stroke="#808080" stroke-width="1"/>
<line x1="182.9" y1="611.0" x2="182.9" y2="613.6" stroke="#808080" stroke-width="1"/>
<line x1="227.3" y1="611.0" x2="227.3" y2="613.6" stroke="#808080" stroke-width="1"/>
<line x1="271.0" y1="611.0" x2="271.0" y2="613.6" stroke="#808080" stroke-width="1"/>
<line x1="315.0" y1="611.0" x2="315.0" y2="613.6" stroke="#808080" stroke-width="1"/>
<line x1="359.9" y1="611.0" x2="359.9" y2="613.6" stroke="#808080" stroke-width="1"/>
<line x1="401.9" y1="611.0" x2="401.9" y2="613.6" stroke="#808080" stroke-width="1"/>
<line x1="445.8" y1="611.0" x2="445.8" y2="613.6" stroke="#808080" stroke-width="1"/>
<line x1="51.0" y1="389.2" x2="48.4" y2="389.2" stroke="#808080" stroke-width="1"/>
<text x="46.2" y="395.2" font-family="Liberation Sans, sans-serif" font-size="14.3" text-anchor="end" textLength="19.6" lengthAdjust="spacingAndGlyphs">80</text>
<line x1="51.0" y1="444.6" x2="48.4" y2="444.6" stroke="#808080" stroke-width="1"/>
<text x="46.2" y="450.6" font-family="Liberation Sans, sans-serif" font-size="14.3" text-anchor="end" textLength="19.6" lengthAdjust="spacingAndGlyphs">60</text>
<line x1="51.0" y1="500.1" x2="48.4" y2="500.1" stroke="#808080" stroke-width="1"/>
<text x="46.2" y="506.1" font-family="Liberation Sans, sans-serif" font-size="14.3" text-anchor="end" textLength="19.6" lengthAdjust="spacingAndGlyphs">40</text>
<line x1="51.0" y1="555.4" x2="48.4" y2="555.4" stroke="#808080" stroke-width="1"/>
<text x="46.2" y="561.4" font-family="Liberation Sans, sans-serif" font-size="14.3" text-anchor="end" textLength="19.6" lengthAdjust="spacingAndGlyphs">20</text>
<line x1="51.0" y1="610.8" x2="48.4" y2="610.8" stroke="#808080" stroke-width="1"/>
<text x="46.2" y="616.8" font-family="Liberation Sans, sans-serif" font-size="14.3" text-anchor="end" textLength="10.6" lengthAdjust="spacingAndGlyphs">0</text>
<rect x="478.6" y="369.6" width="394.8" height="241.4" fill="none" stroke="#808080" stroke-width="1.1"/>
<line x1="478.7" y1="611.0" x2="478.7" y2="613.6" stroke="#808080" stroke-width="1"/>
<line x1="523.1" y1="611.0" x2="523.1" y2="613.6" stroke="#808080" stroke-width="1"/>
<line x1="567.8" y1="611.0" x2="567.8" y2="613.6" stroke="#808080" stroke-width="1"/>
<line x1="610.5" y1="611.0" x2="610.5" y2="613.6" stroke="#808080" stroke-width="1"/>
<line x1="654.9" y1="611.0" x2="654.9" y2="613.6" stroke="#808080" stroke-width="1"/>
<line x1="698.6" y1="611.0" x2="698.6" y2="613.6" stroke="#808080" stroke-width="1"/>
<line x1="742.6" y1="611.0" x2="742.6" y2="613.6" stroke="#808080" stroke-width="1"/>
<line x1="787.5" y1="611.0" x2="787.5" y2="613.6" stroke="#808080" stroke-width="1"/>
<line x1="829.5" y1="611.0" x2="829.5" y2="613.6" stroke="#808080" stroke-width="1"/>
<line x1="873.4" y1="611.0" x2="873.4" y2="613.6" stroke="#808080" stroke-width="1"/>
<line x1="478.6" y1="389.2" x2="476.0" y2="389.2" stroke="#808080" stroke-width="1"/>
<line x1="478.6" y1="444.6" x2="476.0" y2="444.6" stroke="#808080" stroke-width="1"/>
<line x1="478.6" y1="500.1" x2="476.0" y2="500.1" stroke="#808080" stroke-width="1"/>
<line x1="478.6" y1="555.4" x2="476.0" y2="555.4" stroke="#808080" stroke-width="1"/>
<line x1="478.6" y1="610.8" x2="476.0" y2="610.8" stroke="#808080" stroke-width="1"/>
<rect x="51.0" y="627.3" width="395.0" height="241.1" fill="none" stroke="#808080" stroke-width="1.1"/>
<line x1="51.1" y1="868.4" x2="51.1" y2="871.0" stroke="#808080" stroke-width="1"/>
<line x1="95.5" y1="868.4" x2="95.5" y2="871.0" stroke="#808080" stroke-width="1"/>
<line x1="140.2" y1="868.4" x2="140.2" y2="871.0" stroke="#808080" stroke-width="1"/>
<line x1="182.9" y1="868.4" x2="182.9" y2="871.0" stroke="#808080" stroke-width="1"/>
<line x1="227.3" y1="868.4" x2="227.3" y2="871.0" stroke="#808080" stroke-width="1"/>
<line x1="271.0" y1="868.4" x2="271.0" y2="871.0" stroke="#808080" stroke-width="1"/>
<line x1="315.0" y1="868.4" x2="315.0" y2="871.0" stroke="#808080" stroke-width="1"/>
<line x1="359.9" y1="868.4" x2="359.9" y2="871.0" stroke="#808080" stroke-width="1"/>
<line x1="401.9" y1="868.4" x2="401.9" y2="871.0" stroke="#808080" stroke-width="1"/>
<line x1="445.8" y1="868.4" x2="445.8" y2="871.0" stroke="#808080" stroke-width="1"/>
<line x1="51.0" y1="646.5" x2="48.4" y2="646.5" stroke="#808080" stroke-width="1"/>
<text x="46.2" y="652.5" font-family="Liberation Sans, sans-serif" font-size="14.3" text-anchor="end" textLength="28.6" lengthAdjust="spacingAndGlyphs">480</text>
<line x1="51.0" y1="686.4" x2="48.4" y2="686.4" stroke="#808080" stroke-width="1"/>
<text x="46.2" y="692.4" font-family="Liberation Sans, sans-serif" font-size="14.3" text-anchor="end" textLength="28.6" lengthAdjust="spacingAndGlyphs">440</text>
<line x1="51.0" y1="726.0" x2="48.4" y2="726.0" stroke="#808080" stroke-width="1"/>
<text x="46.2" y="732.0" font-family="Liberation Sans, sans-serif" font-size="14.3" text-anchor="end" textLength="28.6" lengthAdjust="spacingAndGlyphs">400</text>
<line x1="51.0" y1="765.4" x2="48.4" y2="765.4" stroke="#808080" stroke-width="1"/>
<text x="46.2" y="771.4" font-family="Liberation Sans, sans-serif" font-size="14.3" text-anchor="end" textLength="28.6" lengthAdjust="spacingAndGlyphs">360</text>
<line x1="51.0" y1="804.8" x2="48.4" y2="804.8" stroke="#808080" stroke-width="1"/>
<text x="46.2" y="810.8" font-family="Liberation Sans, sans-serif" font-size="14.3" text-anchor="end" textLength="28.6" lengthAdjust="spacingAndGlyphs">320</text>
<line x1="51.0" y1="844.0" x2="48.4" y2="844.0" stroke="#808080" stroke-width="1"/>
<text x="46.2" y="850.0" font-family="Liberation Sans, sans-serif" font-size="14.3" text-anchor="end" textLength="28.6" lengthAdjust="spacingAndGlyphs">280</text>
<rect x="478.6" y="627.3" width="394.8" height="241.1" fill="none" stroke="#808080" stroke-width="1.1"/>
<line x1="478.7" y1="868.4" x2="478.7" y2="871.0" stroke="#808080" stroke-width="1"/>
<line x1="523.1" y1="868.4" x2="523.1" y2="871.0" stroke="#808080" stroke-width="1"/>
<line x1="567.8" y1="868.4" x2="567.8" y2="871.0" stroke="#808080" stroke-width="1"/>
<line x1="610.5" y1="868.4" x2="610.5" y2="871.0" stroke="#808080" stroke-width="1"/>
<line x1="654.9" y1="868.4" x2="654.9" y2="871.0" stroke="#808080" stroke-width="1"/>
<line x1="698.6" y1="868.4" x2="698.6" y2="871.0" stroke="#808080" stroke-width="1"/>
<line x1="742.6" y1="868.4" x2="742.6" y2="871.0" stroke="#808080" stroke-width="1"/>
<line x1="787.5" y1="868.4" x2="787.5" y2="871.0" stroke="#808080" stroke-width="1"/>
<line x1="829.5" y1="868.4" x2="829.5" y2="871.0" stroke="#808080" stroke-width="1"/>
<line x1="873.4" y1="868.4" x2="873.4" y2="871.0" stroke="#808080" stroke-width="1"/>
<line x1="478.6" y1="646.5" x2="476.0" y2="646.5" stroke="#808080" stroke-width="1"/>
<line x1="478.6" y1="686.4" x2="476.0" y2="686.4" stroke="#808080" stroke-width="1"/>
<line x1="478.6" y1="726.0" x2="476.0" y2="726.0" stroke="#808080" stroke-width="1"/>
<line x1="478.6" y1="765.4" x2="476.0" y2="765.4" stroke="#808080" stroke-width="1"/>
<line x1="478.6" y1="804.8" x2="476.0" y2="804.8" stroke="#808080" stroke-width="1"/>
<line x1="478.6" y1="844.0" x2="476.0" y2="844.0" stroke="#808080" stroke-width="1"/>
<text x="51.1" y="884.6" font-family="Liberation Sans, sans-serif" font-size="14.4" text-anchor="middle" textLength="28.2" lengthAdjust="spacingAndGlyphs">Sep</text>
<text x="95.5" y="884.6" font-family="Liberation Sans, sans-serif" font-size="14.4" text-anchor="middle" textLength="29.4" lengthAdjust="spacingAndGlyphs">Oct</text>
<text x="140.2" y="884.6" font-family="Liberation Sans, sans-serif" font-size="14.4" text-anchor="middle" textLength="29.8" lengthAdjust="spacingAndGlyphs">Nov</text>
<text x="182.9" y="884.6" font-family="Liberation Sans, sans-serif" font-size="14.4" text-anchor="middle" textLength="30.4" lengthAdjust="spacingAndGlyphs">Dec</text>
<text x="227.3" y="884.6" font-family="Liberation Sans, sans-serif" font-size="14.4" text-anchor="middle" textLength="26.8" lengthAdjust="spacingAndGlyphs">Jan</text>
<text x="271.0" y="884.6" font-family="Liberation Sans, sans-serif" font-size="14.4" text-anchor="middle" textLength="27.8" lengthAdjust="spacingAndGlyphs">Feb</text>
<text x="315.0" y="884.6" font-family="Liberation Sans, sans-serif" font-size="14.4" text-anchor="middle" textLength="30.8" lengthAdjust="spacingAndGlyphs">Mar</text>
<text x="359.9" y="884.6" font-family="Liberation Sans, sans-serif" font-size="14.4" text-anchor="middle" textLength="27.4" lengthAdjust="spacingAndGlyphs">Apr</text>
<text x="401.9" y="884.6" font-family="Liberation Sans, sans-serif" font-size="14.4" text-anchor="middle" textLength="30.4" lengthAdjust="spacingAndGlyphs">May</text>
<text x="445.8" y="884.6" font-family="Liberation Sans, sans-serif" font-size="14.4" text-anchor="middle" textLength="26.4" lengthAdjust="spacingAndGlyphs">Jun</text>
<text x="478.7" y="884.6" font-family="Liberation Sans, sans-serif" font-size="14.4" text-anchor="middle" textLength="28.2" lengthAdjust="spacingAndGlyphs">Sep</text>
<text x="523.1" y="884.6" font-family="Liberation Sans, sans-serif" font-size="14.4" text-anchor="middle" textLength="29.4" lengthAdjust="spacingAndGlyphs">Oct</text>
<text x="567.8" y="884.6" font-family="Liberation Sans, sans-serif" font-size="14.4" text-anchor="middle" textLength="29.8" lengthAdjust="spacingAndGlyphs">Nov</text>
<text x="610.5" y="884.6" font-family="Liberation Sans, sans-serif" font-size="14.4" text-anchor="middle" textLength="30.4" lengthAdjust="spacingAndGlyphs">Dec</text>
<text x="654.9" y="884.6" font-family="Liberation Sans, sans-serif" font-size="14.4" text-anchor="middle" textLength="26.8" lengthAdjust="spacingAndGlyphs">Jan</text>
<text x="698.6" y="884.6" font-family="Liberation Sans, sans-serif" font-size="14.4" text-anchor="middle" textLength="27.8" lengthAdjust="spacingAndGlyphs">Feb</text>
<text x="742.6" y="884.6" font-family="Liberation Sans, sans-serif" font-size="14.4" text-anchor="middle" textLength="30.8" lengthAdjust="spacingAndGlyphs">Mar</text>
<text x="787.5" y="884.6" font-family="Liberation Sans, sans-serif" font-size="14.4" text-anchor="middle" textLength="27.4" lengthAdjust="spacingAndGlyphs">Apr</text>
<text x="829.5" y="884.6" font-family="Liberation Sans, sans-serif" font-size="14.4" text-anchor="middle" textLength="30.4" lengthAdjust="spacingAndGlyphs">May</text>
<text x="873.4" y="884.6" font-family="Liberation Sans, sans-serif" font-size="14.4" text-anchor="middle" textLength="26.4" lengthAdjust="spacingAndGlyphs">Jun</text>
<text transform="translate(13.5,233.2) rotate(-90)" font-family="Liberation Sans, sans-serif" font-size="16.5" text-anchor="middle">K</text>
<text transform="translate(21.0,535.8) rotate(-90)" font-family="Liberation Sans, sans-serif" font-size="16.2" textLength="82.5" lengthAdjust="spacingAndGlyphs">million km</text>
<text transform="translate(14.9,451.8) rotate(-90)" font-family="Liberation Sans, sans-serif" font-size="12">3</text>
<text transform="translate(13.3,749.2) rotate(-90)" font-family="Liberation Sans, sans-serif" font-size="16.2" text-anchor="middle" textLength="23.6" lengthAdjust="spacingAndGlyphs">DU</text>
<rect x="56.9" y="114.6" width="91.8" height="46.3" fill="#fff" stroke="#808080" stroke-width="1.2"/>
<text x="63.7" y="133" font-family="Liberation Sans, sans-serif" font-size="16.5" font-weight="bold" textLength="48.4" lengthAdjust="spacingAndGlyphs">ERA5</text>
<text x="63.7" y="152.2" font-family="Liberation Sans, sans-serif" font-size="16.5" textLength="22.4" lengthAdjust="spacingAndGlyphs">(a)</text>
<text x="92.9" y="152.2" font-family="Liberation Sans, sans-serif" font-size="16.5" textLength="10.4" lengthAdjust="spacingAndGlyphs">T</text>
<text x="103.8" y="154.8" font-family="Liberation Sans, sans-serif" font-size="11.6" textLength="38.9" lengthAdjust="spacingAndGlyphs">STRAT</text>
<rect x="484.7" y="116.0" width="91.9" height="27.3" fill="#fff" stroke="#808080" stroke-width="1.2"/>
<text x="491.2" y="133.9" font-family="Liberation Sans, sans-serif" font-size="16.5" textLength="22.0" lengthAdjust="spacingAndGlyphs">(b)</text>
<text x="520.0" y="133.9" font-family="Liberation Sans, sans-serif" font-size="16.5" textLength="10.4" lengthAdjust="spacingAndGlyphs">T</text>
<text x="530.9" y="136.5" font-family="Liberation Sans, sans-serif" font-size="11.6" textLength="39.0" lengthAdjust="spacingAndGlyphs">STRAT</text>
<rect x="56.8" y="373.5" width="75.6" height="27.0" fill="#fff" stroke="#808080" stroke-width="1.2"/>
<text x="63.6" y="391.9" font-family="Liberation Sans, sans-serif" font-size="16.5" textLength="21.5" lengthAdjust="spacingAndGlyphs">(c)</text>
<text x="91.9" y="391.9" font-family="Liberation Sans, sans-serif" font-size="16.5" textLength="11.6" lengthAdjust="spacingAndGlyphs">V</text>
<text x="104.0" y="394.5" font-family="Liberation Sans, sans-serif" font-size="11.6" textLength="22.8" lengthAdjust="spacingAndGlyphs">PSC</text>
<rect x="484.6" y="373.5" width="77.0" height="27.0" fill="#fff" stroke="#808080" stroke-width="1.2"/>
<text x="491.2" y="392.2" font-family="Liberation Sans, sans-serif" font-size="16.5" textLength="23.0" lengthAdjust="spacingAndGlyphs">(d)</text>
<text x="521.0" y="392.2" font-family="Liberation Sans, sans-serif" font-size="16.5" textLength="11.6" lengthAdjust="spacingAndGlyphs">V</text>
<text x="533.1" y="394.8" font-family="Liberation Sans, sans-serif" font-size="11.6" textLength="22.8" lengthAdjust="spacingAndGlyphs">PSC</text>
<rect x="56.6" y="631.3" width="77.9" height="26.7" fill="#fff" stroke="#808080" stroke-width="1.2"/>
<text x="63.7" y="649.9" font-family="Liberation Sans, sans-serif" font-size="16.5" textLength="22.6" lengthAdjust="spacingAndGlyphs">(e)</text>
<text x="93.1" y="649.9" font-family="Liberation Sans, sans-serif" font-size="16.5" textLength="36.8" lengthAdjust="spacingAndGlyphs">TCO</text>
<text x="130.4" y="652.5" font-family="Liberation Sans, sans-serif" font-size="11.6" textLength="0.0" lengthAdjust="spacingAndGlyphs"></text>
<rect x="484.6" y="631.3" width="77.5" height="26.7" fill="#fff" stroke="#808080" stroke-width="1.2"/>
<text x="491.2" y="649.9" font-family="Liberation Sans, sans-serif" font-size="16.5" textLength="22.6" lengthAdjust="spacing">(f)</text>
<text x="520.6" y="649.9" font-family="Liberation Sans, sans-serif" font-size="16.5" textLength="36.8" lengthAdjust="spacingAndGlyphs">TCO</text>
<text x="557.9" y="652.5" font-family="Liberation Sans, sans-serif" font-size="11.6" textLength="0.0" lengthAdjust="spacingAndGlyphs"></text>
<rect x="251.4" y="3.6" width="421" height="99.4" rx="3.5" fill="#8a8a8a" opacity="0.85"/>
<rect x="249.6" y="1.8" width="421" height="99.4" rx="3.5" fill="#fff" stroke="#ddd" stroke-width="1"/>
<line x1="255.0" y1="15.2" x2="289.3" y2="15.2" stroke="#c47a00" stroke-width="2.4"/>
<text x="302.0" y="20.5" font-family="Liberation Sans, sans-serif" font-size="16.6" textLength="67.2" lengthAdjust="spacingAndGlyphs">1980/81</text>
<line x1="255.0" y1="39.3" x2="289.3" y2="39.3" stroke="#ff8000" stroke-width="2.4"/>
<text x="302.0" y="44.6" font-family="Liberation Sans, sans-serif" font-size="16.6" textLength="67.2" lengthAdjust="spacingAndGlyphs">1999/00</text>
<line x1="255.0" y1="63.2" x2="289.3" y2="63.2" stroke="#ff0000" stroke-width="2.4"/>
<text x="302.0" y="68.5" font-family="Liberation Sans, sans-serif" font-size="16.6" textLength="67.2" lengthAdjust="spacingAndGlyphs">2004/05</text>
<line x1="255.0" y1="87.2" x2="289.3" y2="87.2" stroke="#b81212" stroke-width="2.4"/>
<text x="302.0" y="92.5" font-family="Liberation Sans, sans-serif" font-size="16.6" textLength="67.2" lengthAdjust="spacingAndGlyphs">2015/16</text>
<line x1="400.3" y1="15.2" x2="434.6" y2="15.2" stroke="#00c800" stroke-width="2.4"/>
<text x="447.3" y="20.5" font-family="Liberation Sans, sans-serif" font-size="16.6" textLength="67.2" lengthAdjust="spacingAndGlyphs">1996/97</text>
<line x1="400.3" y1="39.3" x2="434.6" y2="39.3" stroke="#008080" stroke-width="2.4"/>
<text x="447.3" y="44.6" font-family="Liberation Sans, sans-serif" font-size="16.6" textLength="67.2" lengthAdjust="spacingAndGlyphs">2010/11</text>
<line x1="400.3" y1="63.2" x2="434.6" y2="63.2" stroke="#0000ff" stroke-width="2.4"/>
<text x="447.3" y="68.5" font-family="Liberation Sans, sans-serif" font-size="16.6" textLength="67.2" lengthAdjust="spacingAndGlyphs">2019/20</text>
<line x1="400.3" y1="87.2" x2="434.6" y2="87.2" stroke="#8b0080" stroke-width="2.4"/>
<text x="447.3" y="92.5" font-family="Liberation Sans, sans-serif" font-size="16.6" textLength="67.2" lengthAdjust="spacingAndGlyphs">2021/22</text>
<line x1="546.3" y1="15.2" x2="580.6" y2="15.2" stroke="#000000" stroke-width="2.4"/>
<text x="592.1" y="20.5" font-family="Liberation Sans, sans-serif" font-size="16.6" textLength="45.6" lengthAdjust="spacingAndGlyphs">Mean</text>
<line x1="546.3" y1="39.3" x2="580.6" y2="39.3" stroke="#808080" stroke-width="2.4"/>
<text x="592.1" y="44.6" font-family="Liberation Sans, sans-serif" font-size="16.6" textLength="35.2" lengthAdjust="spacingAndGlyphs">Max</text>
<line x1="546.3" y1="63.2" x2="580.6" y2="63.2" stroke="#808080" stroke-width="2.4"/>
<text x="592.1" y="68.5" font-family="Liberation Sans, sans-serif" font-size="16.6" textLength="29.8" lengthAdjust="spacingAndGlyphs">Min</text>
<rect x="547.3" y="81.6" width="32.3" height="11.2" fill="#bebebe" stroke="#9fd8ea" stroke-width="2.2"/>
<text x="593.3" y="92.5" font-family="Liberation Sans, sans-serif" font-size="16.6" textLength="72.4" lengthAdjust="spacingAndGlyphs">Q25-Q75</text>
</svg></body></html>
